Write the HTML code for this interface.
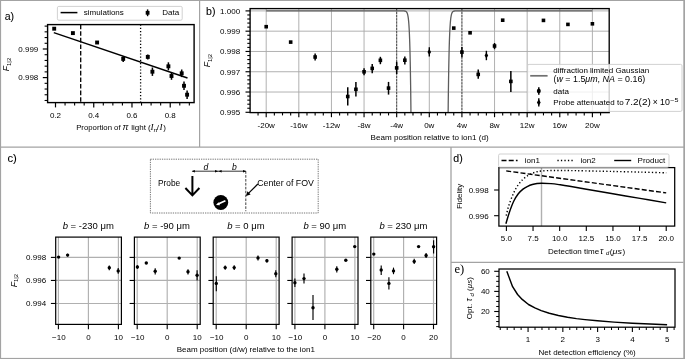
<!DOCTYPE html>
<html><head><meta charset="utf-8"><title>figure</title>
<style>
html,body{margin:0;padding:0;background:#fff;}
body{width:685px;height:359px;overflow:hidden;}
svg{display:block;font-family:"Liberation Sans",sans-serif;filter:grayscale(1);}
</style></head><body>
<svg width="685" height="359" viewBox="0 0 685 359">
<rect x="0" y="0" width="685" height="359" fill="#fff"/>
<line x1="0.5" y1="0" x2="0.5" y2="359" stroke="#a3a3a3" stroke-width="1.2" />
<line x1="0" y1="0.5" x2="685" y2="0.5" stroke="#a3a3a3" stroke-width="1.2" />
<rect x="683.3" y="0" width="1.7" height="359" fill="#a3a3a3"/>
<rect x="0" y="357.9" width="685" height="1.1" fill="#a3a3a3"/>
<line x1="0" y1="147.1" x2="685" y2="147.1" stroke="#a3a3a3" stroke-width="1.2" />
<line x1="199.6" y1="0" x2="199.6" y2="147.1" stroke="#a3a3a3" stroke-width="1.2" />
<line x1="451" y1="147.1" x2="451" y2="358" stroke="#a3a3a3" stroke-width="1.3" />
<line x1="451" y1="262.3" x2="683.5" y2="262.3" stroke="#a3a3a3" stroke-width="1.2" />
<text x="4.7" y="20.1" font-size="10.2" text-anchor="start" fill="#000" textLength="9.4" lengthAdjust="spacingAndGlyphs" stroke="#000" stroke-width="0.08">a)</text>
<text x="206" y="14.8" font-size="10.2" text-anchor="start" fill="#000" textLength="9.4" lengthAdjust="spacingAndGlyphs" stroke="#000" stroke-width="0.08">b)</text>
<text x="7.4" y="161.6" font-size="10.2" text-anchor="start" fill="#000" textLength="9.4" lengthAdjust="spacingAndGlyphs" stroke="#000" stroke-width="0.08">c)</text>
<text x="453.3" y="161.9" font-size="10.2" text-anchor="start" fill="#000" textLength="9.4" lengthAdjust="spacingAndGlyphs" stroke="#000" stroke-width="0.08">d)</text>
<text x="454.5" y="272.9" font-size="12.6" text-anchor="start" fill="#000" style="font-family:'Liberation Serif',serif">e)</text>
<line x1="80.7" y1="24.6" x2="80.7" y2="102.6" stroke="#000" stroke-width="1.3" stroke-dasharray="4.6 2"/>
<line x1="140.6" y1="24.6" x2="140.6" y2="102.6" stroke="#000" stroke-width="1.3" stroke-dasharray="1.2 2"/>
<line x1="53.8" y1="32.7" x2="187.5" y2="78" stroke="#000" stroke-width="1.4" />
<rect x="52.25" y="26.75" width="3.9" height="3.9" fill="#000"/>
<rect x="70.95" y="31.15" width="3.9" height="3.9" fill="#000"/>
<rect x="95.15" y="40.55" width="3.9" height="3.9" fill="#000"/>
<line x1="123.2" y1="55.9" x2="123.2" y2="61.9" stroke="#000" stroke-width="1.5" />
<rect x="121.25" y="56.95" width="3.9" height="3.9" fill="#000"/>
<line x1="147.8" y1="54.4" x2="147.8" y2="59.4" stroke="#000" stroke-width="1.5" />
<rect x="145.85" y="54.95" width="3.9" height="3.9" fill="#000"/>
<line x1="152.4" y1="67.5" x2="152.4" y2="75.9" stroke="#000" stroke-width="1.5" />
<rect x="150.45" y="69.75" width="3.9" height="3.9" fill="#000"/>
<line x1="168.4" y1="62.3" x2="168.4" y2="70.3" stroke="#000" stroke-width="1.5" />
<rect x="166.45" y="64.35" width="3.9" height="3.9" fill="#000"/>
<line x1="171.5" y1="72.2" x2="171.5" y2="79.8" stroke="#000" stroke-width="1.5" />
<rect x="169.55" y="74.05" width="3.9" height="3.9" fill="#000"/>
<line x1="181.7" y1="69.5" x2="181.7" y2="77.1" stroke="#000" stroke-width="1.5" />
<rect x="179.75" y="71.35" width="3.9" height="3.9" fill="#000"/>
<line x1="184" y1="81.6" x2="184" y2="90" stroke="#000" stroke-width="1.5" />
<rect x="182.05" y="83.85" width="3.9" height="3.9" fill="#000"/>
<line x1="187.1" y1="90.5" x2="187.1" y2="98.9" stroke="#000" stroke-width="1.5" />
<rect x="185.15" y="92.75" width="3.9" height="3.9" fill="#000"/>
<line x1="55.5" y1="102.6" x2="55.5" y2="107.4" stroke="#000" stroke-width="1.2" />
<text x="55.5" y="118.1" font-size="8.0" text-anchor="middle" fill="#000" >0.2</text>
<line x1="93.74" y1="102.6" x2="93.74" y2="107.4" stroke="#000" stroke-width="1.2" />
<text x="93.74" y="118.1" font-size="8.0" text-anchor="middle" fill="#000" >0.4</text>
<line x1="131.98" y1="102.6" x2="131.98" y2="107.4" stroke="#000" stroke-width="1.2" />
<text x="131.98" y="118.1" font-size="8.0" text-anchor="middle" fill="#000" >0.6</text>
<line x1="170.22" y1="102.6" x2="170.22" y2="107.4" stroke="#000" stroke-width="1.2" />
<text x="170.22" y="118.1" font-size="8.0" text-anchor="middle" fill="#000" >0.8</text>
<line x1="65.06" y1="102.6" x2="65.06" y2="105.6" stroke="#000" stroke-width="1.1" />
<line x1="74.62" y1="102.6" x2="74.62" y2="105.6" stroke="#000" stroke-width="1.1" />
<line x1="84.18" y1="102.6" x2="84.18" y2="105.6" stroke="#000" stroke-width="1.1" />
<line x1="103.3" y1="102.6" x2="103.3" y2="105.6" stroke="#000" stroke-width="1.1" />
<line x1="112.86" y1="102.6" x2="112.86" y2="105.6" stroke="#000" stroke-width="1.1" />
<line x1="122.42" y1="102.6" x2="122.42" y2="105.6" stroke="#000" stroke-width="1.1" />
<line x1="141.54" y1="102.6" x2="141.54" y2="105.6" stroke="#000" stroke-width="1.1" />
<line x1="151.1" y1="102.6" x2="151.1" y2="105.6" stroke="#000" stroke-width="1.1" />
<line x1="160.66" y1="102.6" x2="160.66" y2="105.6" stroke="#000" stroke-width="1.1" />
<line x1="179.78" y1="102.6" x2="179.78" y2="105.6" stroke="#000" stroke-width="1.1" />
<line x1="189.34" y1="102.6" x2="189.34" y2="105.6" stroke="#000" stroke-width="1.1" />
<line x1="42.8" y1="77.6" x2="47.6" y2="77.6" stroke="#000" stroke-width="1.2" />
<text x="38.3" y="80.45" font-size="8.0" text-anchor="end" fill="#000" >0.998</text>
<line x1="42.8" y1="49" x2="47.6" y2="49" stroke="#000" stroke-width="1.2" />
<text x="38.3" y="51.85" font-size="8.0" text-anchor="end" fill="#000" >0.999</text>
<line x1="44.6" y1="100.48" x2="47.6" y2="100.48" stroke="#000" stroke-width="1.1" />
<line x1="44.6" y1="94.76" x2="47.6" y2="94.76" stroke="#000" stroke-width="1.1" />
<line x1="44.6" y1="89.04" x2="47.6" y2="89.04" stroke="#000" stroke-width="1.1" />
<line x1="44.6" y1="83.32" x2="47.6" y2="83.32" stroke="#000" stroke-width="1.1" />
<line x1="44.6" y1="71.88" x2="47.6" y2="71.88" stroke="#000" stroke-width="1.1" />
<line x1="44.6" y1="66.16" x2="47.6" y2="66.16" stroke="#000" stroke-width="1.1" />
<line x1="44.6" y1="60.44" x2="47.6" y2="60.44" stroke="#000" stroke-width="1.1" />
<line x1="44.6" y1="54.72" x2="47.6" y2="54.72" stroke="#000" stroke-width="1.1" />
<line x1="44.6" y1="43.28" x2="47.6" y2="43.28" stroke="#000" stroke-width="1.1" />
<line x1="44.6" y1="37.56" x2="47.6" y2="37.56" stroke="#000" stroke-width="1.1" />
<line x1="44.6" y1="31.84" x2="47.6" y2="31.84" stroke="#000" stroke-width="1.1" />
<line x1="44.6" y1="26.12" x2="47.6" y2="26.12" stroke="#000" stroke-width="1.1" />
<rect x="47.6" y="24.6" width="146.5" height="78" fill="none" stroke="#000" stroke-width="1.4" />
<text x="76.2" y="130.3" font-size="8.0" text-anchor="start" fill="#000" textLength="44.4" lengthAdjust="spacingAndGlyphs">Proportion of</text>
<text x="122.4" y="130.3" font-size="9.2" text-anchor="start" fill="#000" font-style="italic" textLength="6.0" lengthAdjust="spacingAndGlyphs">π</text>
<text x="131.2" y="130.3" font-size="8.0" text-anchor="start" fill="#000" >light (</text>
<text x="150.4" y="130.3" font-size="9.2" text-anchor="start" fill="#000" style="font-family:'Liberation Serif',serif;font-style:italic">I</text>
<text x="153.4" y="132" font-size="6.0" text-anchor="start" fill="#000" font-style="italic">π</text>
<text x="156.8" y="130.3" font-size="8.0" text-anchor="start" fill="#000" >/</text>
<text x="159.4" y="130.3" font-size="9.2" text-anchor="start" fill="#000" style="font-family:'Liberation Serif',serif;font-style:italic">I</text>
<text x="163.2" y="130.3" font-size="8.0" text-anchor="start" fill="#000" >)</text>
<text transform="translate(8.9,64.5) rotate(-90)" font-size="8.0" text-anchor="middle" ><tspan font-style="italic" font-size="8.6">F</tspan><tspan font-size="6" dy="1.8">1|2</tspan></text>
<rect x="57.4" y="6.4" width="124.8" height="13.8" fill="#fff" stroke="#cccccc" stroke-width="0.9" rx="1.4"/>
<line x1="60.6" y1="12.6" x2="77.4" y2="12.6" stroke="#000" stroke-width="1.5" />
<text x="83.8" y="15.4" font-size="8.0" text-anchor="start" fill="#000" >simulations</text>
<line x1="147.6" y1="9.4" x2="147.6" y2="16.2" stroke="#000" stroke-width="1.4" />
<rect x="145.7" y="10.9" width="3.8" height="3.8" fill="#000"/>
<text x="162.2" y="15.4" font-size="8.0" text-anchor="start" fill="#000" >Data</text>
<line x1="266.2" y1="8.6" x2="266.2" y2="112.6" stroke="#a8a8a8" stroke-width="0.9" />
<line x1="298.82" y1="8.6" x2="298.82" y2="112.6" stroke="#a8a8a8" stroke-width="0.9" />
<line x1="331.44" y1="8.6" x2="331.44" y2="112.6" stroke="#a8a8a8" stroke-width="0.9" />
<line x1="364.06" y1="8.6" x2="364.06" y2="112.6" stroke="#a8a8a8" stroke-width="0.9" />
<line x1="396.68" y1="8.6" x2="396.68" y2="112.6" stroke="#a8a8a8" stroke-width="0.9" />
<line x1="429.3" y1="8.6" x2="429.3" y2="112.6" stroke="#a8a8a8" stroke-width="0.9" />
<line x1="461.92" y1="8.6" x2="461.92" y2="112.6" stroke="#a8a8a8" stroke-width="0.9" />
<line x1="494.54" y1="8.6" x2="494.54" y2="112.6" stroke="#a8a8a8" stroke-width="0.9" />
<line x1="527.16" y1="8.6" x2="527.16" y2="112.6" stroke="#a8a8a8" stroke-width="0.9" />
<line x1="559.78" y1="8.6" x2="559.78" y2="112.6" stroke="#a8a8a8" stroke-width="0.9" />
<line x1="592.4" y1="8.6" x2="592.4" y2="112.6" stroke="#a8a8a8" stroke-width="0.9" />
<line x1="250.1" y1="10.9" x2="609.2" y2="10.9" stroke="#a8a8a8" stroke-width="0.9" />
<line x1="250.1" y1="31.18" x2="609.2" y2="31.18" stroke="#a8a8a8" stroke-width="0.9" />
<line x1="250.1" y1="51.46" x2="609.2" y2="51.46" stroke="#a8a8a8" stroke-width="0.9" />
<line x1="250.1" y1="71.74" x2="609.2" y2="71.74" stroke="#a8a8a8" stroke-width="0.9" />
<line x1="250.1" y1="92.02" x2="609.2" y2="92.02" stroke="#a8a8a8" stroke-width="0.9" />
<line x1="396.68" y1="8.6" x2="396.68" y2="112.6" stroke="#000" stroke-width="0.62" stroke-dasharray="2.2 1.0"/>
<line x1="461.92" y1="8.6" x2="461.92" y2="112.6" stroke="#000" stroke-width="0.62" stroke-dasharray="2.2 1.0"/>
<clipPath id="clipb"><rect x="250.1" y="8.6" width="359.1" height="104"/></clipPath>
<path d="M266.2 10.9 L266.36 10.9 L266.53 10.9 L266.69 10.9 L266.85 10.9 L267.02 10.9 L267.18 10.9 L267.34 10.9 L267.5 10.9 L267.67 10.9 L267.83 10.9 L267.99 10.9 L268.16 10.9 L268.32 10.9 L268.48 10.9 L268.65 10.9 L268.81 10.9 L268.97 10.9 L269.14 10.9 L269.3 10.9 L269.46 10.9 L269.63 10.9 L269.79 10.9 L269.95 10.9 L270.11 10.9 L270.28 10.9 L270.44 10.9 L270.6 10.9 L270.77 10.9 L270.93 10.9 L271.09 10.9 L271.26 10.9 L271.42 10.9 L271.58 10.9 L271.75 10.9 L271.91 10.9 L272.07 10.9 L272.23 10.9 L272.4 10.9 L272.56 10.9 L272.72 10.9 L272.89 10.9 L273.05 10.9 L273.21 10.9 L273.38 10.9 L273.54 10.9 L273.7 10.9 L273.87 10.9 L274.03 10.9 L274.19 10.9 L274.35 10.9 L274.52 10.9 L274.68 10.9 L274.84 10.9 L275.01 10.9 L275.17 10.9 L275.33 10.9 L275.5 10.9 L275.66 10.9 L275.82 10.9 L275.99 10.9 L276.15 10.9 L276.31 10.9 L276.48 10.9 L276.64 10.9 L276.8 10.9 L276.96 10.9 L277.13 10.9 L277.29 10.9 L277.45 10.9 L277.62 10.9 L277.78 10.9 L277.94 10.9 L278.11 10.9 L278.27 10.9 L278.43 10.9 L278.6 10.9 L278.76 10.9 L278.92 10.9 L279.08 10.9 L279.25 10.9 L279.41 10.9 L279.57 10.9 L279.74 10.9 L279.9 10.9 L280.06 10.9 L280.23 10.9 L280.39 10.9 L280.55 10.9 L280.72 10.9 L280.88 10.9 L281.04 10.9 L281.21 10.9 L281.37 10.9 L281.53 10.9 L281.69 10.9 L281.86 10.9 L282.02 10.9 L282.18 10.9 L282.35 10.9 L282.51 10.9 L282.67 10.9 L282.84 10.9 L283 10.9 L283.16 10.9 L283.33 10.9 L283.49 10.9 L283.65 10.9 L283.81 10.9 L283.98 10.9 L284.14 10.9 L284.3 10.9 L284.47 10.9 L284.63 10.9 L284.79 10.9 L284.96 10.9 L285.12 10.9 L285.28 10.9 L285.45 10.9 L285.61 10.9 L285.77 10.9 L285.94 10.9 L286.1 10.9 L286.26 10.9 L286.42 10.9 L286.59 10.9 L286.75 10.9 L286.91 10.9 L287.08 10.9 L287.24 10.9 L287.4 10.9 L287.57 10.9 L287.73 10.9 L287.89 10.9 L288.06 10.9 L288.22 10.9 L288.38 10.9 L288.54 10.9 L288.71 10.9 L288.87 10.9 L289.03 10.9 L289.2 10.9 L289.36 10.9 L289.52 10.9 L289.69 10.9 L289.85 10.9 L290.01 10.9 L290.18 10.9 L290.34 10.9 L290.5 10.9 L290.66 10.9 L290.83 10.9 L290.99 10.9 L291.15 10.9 L291.32 10.9 L291.48 10.9 L291.64 10.9 L291.81 10.9 L291.97 10.9 L292.13 10.9 L292.3 10.9 L292.46 10.9 L292.62 10.9 L292.79 10.9 L292.95 10.9 L293.11 10.9 L293.27 10.9 L293.44 10.9 L293.6 10.9 L293.76 10.9 L293.93 10.9 L294.09 10.9 L294.25 10.9 L294.42 10.9 L294.58 10.9 L294.74 10.9 L294.91 10.9 L295.07 10.9 L295.23 10.9 L295.39 10.9 L295.56 10.9 L295.72 10.9 L295.88 10.9 L296.05 10.9 L296.21 10.9 L296.37 10.9 L296.54 10.9 L296.7 10.9 L296.86 10.9 L297.03 10.9 L297.19 10.9 L297.35 10.9 L297.52 10.9 L297.68 10.9 L297.84 10.9 L298 10.9 L298.17 10.9 L298.33 10.9 L298.49 10.9 L298.66 10.9 L298.82 10.9 L298.98 10.9 L299.15 10.9 L299.31 10.9 L299.47 10.9 L299.64 10.9 L299.8 10.9 L299.96 10.9 L300.12 10.9 L300.29 10.9 L300.45 10.9 L300.61 10.9 L300.78 10.9 L300.94 10.9 L301.1 10.9 L301.27 10.9 L301.43 10.9 L301.59 10.9 L301.76 10.9 L301.92 10.9 L302.08 10.9 L302.25 10.9 L302.41 10.9 L302.57 10.9 L302.73 10.9 L302.9 10.9 L303.06 10.9 L303.22 10.9 L303.39 10.9 L303.55 10.9 L303.71 10.9 L303.88 10.9 L304.04 10.9 L304.2 10.9 L304.37 10.9 L304.53 10.9 L304.69 10.9 L304.85 10.9 L305.02 10.9 L305.18 10.9 L305.34 10.9 L305.51 10.9 L305.67 10.9 L305.83 10.9 L306 10.9 L306.16 10.9 L306.32 10.9 L306.49 10.9 L306.65 10.9 L306.81 10.9 L306.97 10.9 L307.14 10.9 L307.3 10.9 L307.46 10.9 L307.63 10.9 L307.79 10.9 L307.95 10.9 L308.12 10.9 L308.28 10.9 L308.44 10.9 L308.61 10.9 L308.77 10.9 L308.93 10.9 L309.1 10.9 L309.26 10.9 L309.42 10.9 L309.58 10.9 L309.75 10.9 L309.91 10.9 L310.07 10.9 L310.24 10.9 L310.4 10.9 L310.56 10.9 L310.73 10.9 L310.89 10.9 L311.05 10.9 L311.22 10.9 L311.38 10.9 L311.54 10.9 L311.7 10.9 L311.87 10.9 L312.03 10.9 L312.19 10.9 L312.36 10.9 L312.52 10.9 L312.68 10.9 L312.85 10.9 L313.01 10.9 L313.17 10.9 L313.34 10.9 L313.5 10.9 L313.66 10.9 L313.83 10.9 L313.99 10.9 L314.15 10.9 L314.31 10.9 L314.48 10.9 L314.64 10.9 L314.8 10.9 L314.97 10.9 L315.13 10.9 L315.29 10.9 L315.46 10.9 L315.62 10.9 L315.78 10.9 L315.95 10.9 L316.11 10.9 L316.27 10.9 L316.43 10.9 L316.6 10.9 L316.76 10.9 L316.92 10.9 L317.09 10.9 L317.25 10.9 L317.41 10.9 L317.58 10.9 L317.74 10.9 L317.9 10.9 L318.07 10.9 L318.23 10.9 L318.39 10.9 L318.56 10.9 L318.72 10.9 L318.88 10.9 L319.04 10.9 L319.21 10.9 L319.37 10.9 L319.53 10.9 L319.7 10.9 L319.86 10.9 L320.02 10.9 L320.19 10.9 L320.35 10.9 L320.51 10.9 L320.68 10.9 L320.84 10.9 L321 10.9 L321.16 10.9 L321.33 10.9 L321.49 10.9 L321.65 10.9 L321.82 10.9 L321.98 10.9 L322.14 10.9 L322.31 10.9 L322.47 10.9 L322.63 10.9 L322.8 10.9 L322.96 10.9 L323.12 10.9 L323.28 10.9 L323.45 10.9 L323.61 10.9 L323.77 10.9 L323.94 10.9 L324.1 10.9 L324.26 10.9 L324.43 10.9 L324.59 10.9 L324.75 10.9 L324.92 10.9 L325.08 10.9 L325.24 10.9 L325.41 10.9 L325.57 10.9 L325.73 10.9 L325.89 10.9 L326.06 10.9 L326.22 10.9 L326.38 10.9 L326.55 10.9 L326.71 10.9 L326.87 10.9 L327.04 10.9 L327.2 10.9 L327.36 10.9 L327.53 10.9 L327.69 10.9 L327.85 10.9 L328.01 10.9 L328.18 10.9 L328.34 10.9 L328.5 10.9 L328.67 10.9 L328.83 10.9 L328.99 10.9 L329.16 10.9 L329.32 10.9 L329.48 10.9 L329.65 10.9 L329.81 10.9 L329.97 10.9 L330.14 10.9 L330.3 10.9 L330.46 10.9 L330.62 10.9 L330.79 10.9 L330.95 10.9 L331.11 10.9 L331.28 10.9 L331.44 10.9 L331.6 10.9 L331.77 10.9 L331.93 10.9 L332.09 10.9 L332.26 10.9 L332.42 10.9 L332.58 10.9 L332.74 10.9 L332.91 10.9 L333.07 10.9 L333.23 10.9 L333.4 10.9 L333.56 10.9 L333.72 10.9 L333.89 10.9 L334.05 10.9 L334.21 10.9 L334.38 10.9 L334.54 10.9 L334.7 10.9 L334.87 10.9 L335.03 10.9 L335.19 10.9 L335.35 10.9 L335.52 10.9 L335.68 10.9 L335.84 10.9 L336.01 10.9 L336.17 10.9 L336.33 10.9 L336.5 10.9 L336.66 10.9 L336.82 10.9 L336.99 10.9 L337.15 10.9 L337.31 10.9 L337.47 10.9 L337.64 10.9 L337.8 10.9 L337.96 10.9 L338.13 10.9 L338.29 10.9 L338.45 10.9 L338.62 10.9 L338.78 10.9 L338.94 10.9 L339.11 10.9 L339.27 10.9 L339.43 10.9 L339.59 10.9 L339.76 10.9 L339.92 10.9 L340.08 10.9 L340.25 10.9 L340.41 10.9 L340.57 10.9 L340.74 10.9 L340.9 10.9 L341.06 10.9 L341.23 10.9 L341.39 10.9 L341.55 10.9 L341.72 10.9 L341.88 10.9 L342.04 10.9 L342.2 10.9 L342.37 10.9 L342.53 10.9 L342.69 10.9 L342.86 10.9 L343.02 10.9 L343.18 10.9 L343.35 10.9 L343.51 10.9 L343.67 10.9 L343.84 10.9 L344 10.9 L344.16 10.9 L344.32 10.9 L344.49 10.9 L344.65 10.9 L344.81 10.9 L344.98 10.9 L345.14 10.9 L345.3 10.9 L345.47 10.9 L345.63 10.9 L345.79 10.9 L345.96 10.9 L346.12 10.9 L346.28 10.9 L346.45 10.9 L346.61 10.9 L346.77 10.9 L346.93 10.9 L347.1 10.9 L347.26 10.9 L347.42 10.9 L347.59 10.9 L347.75 10.9 L347.91 10.9 L348.08 10.9 L348.24 10.9 L348.4 10.9 L348.57 10.9 L348.73 10.9 L348.89 10.9 L349.05 10.9 L349.22 10.9 L349.38 10.9 L349.54 10.9 L349.71 10.9 L349.87 10.9 L350.03 10.9 L350.2 10.9 L350.36 10.9 L350.52 10.9 L350.69 10.9 L350.85 10.9 L351.01 10.9 L351.18 10.9 L351.34 10.9 L351.5 10.9 L351.66 10.9 L351.83 10.9 L351.99 10.9 L352.15 10.9 L352.32 10.9 L352.48 10.9 L352.64 10.9 L352.81 10.9 L352.97 10.9 L353.13 10.9 L353.3 10.9 L353.46 10.9 L353.62 10.9 L353.78 10.9 L353.95 10.9 L354.11 10.9 L354.27 10.9 L354.44 10.9 L354.6 10.9 L354.76 10.9 L354.93 10.9 L355.09 10.9 L355.25 10.9 L355.42 10.9 L355.58 10.9 L355.74 10.9 L355.9 10.9 L356.07 10.9 L356.23 10.9 L356.39 10.9 L356.56 10.9 L356.72 10.9 L356.88 10.9 L357.05 10.9 L357.21 10.9 L357.37 10.9 L357.54 10.9 L357.7 10.9 L357.86 10.9 L358.03 10.9 L358.19 10.9 L358.35 10.9 L358.51 10.9 L358.68 10.9 L358.84 10.9 L359 10.9 L359.17 10.9 L359.33 10.9 L359.49 10.9 L359.66 10.9 L359.82 10.9 L359.98 10.9 L360.15 10.9 L360.31 10.9 L360.47 10.9 L360.63 10.9 L360.8 10.9 L360.96 10.9 L361.12 10.9 L361.29 10.9 L361.45 10.9 L361.61 10.9 L361.78 10.9 L361.94 10.9 L362.1 10.9 L362.27 10.9 L362.43 10.9 L362.59 10.9 L362.76 10.9 L362.92 10.9 L363.08 10.9 L363.24 10.9 L363.41 10.9 L363.57 10.9 L363.73 10.9 L363.9 10.9 L364.06 10.9 L364.22 10.9 L364.39 10.9 L364.55 10.9 L364.71 10.9 L364.88 10.9 L365.04 10.9 L365.2 10.9 L365.36 10.9 L365.53 10.9 L365.69 10.9 L365.85 10.9 L366.02 10.9 L366.18 10.9 L366.34 10.9 L366.51 10.9 L366.67 10.9 L366.83 10.9 L367 10.9 L367.16 10.9 L367.32 10.9 L367.49 10.9 L367.65 10.9 L367.81 10.9 L367.97 10.9 L368.14 10.9 L368.3 10.9 L368.46 10.9 L368.63 10.9 L368.79 10.9 L368.95 10.9 L369.12 10.9 L369.28 10.9 L369.44 10.9 L369.61 10.9 L369.77 10.9 L369.93 10.9 L370.09 10.9 L370.26 10.9 L370.42 10.9 L370.58 10.9 L370.75 10.9 L370.91 10.9 L371.07 10.9 L371.24 10.9 L371.4 10.9 L371.56 10.9 L371.73 10.9 L371.89 10.9 L372.05 10.9 L372.21 10.9 L372.38 10.9 L372.54 10.9 L372.7 10.9 L372.87 10.9 L373.03 10.9 L373.19 10.9 L373.36 10.9 L373.52 10.9 L373.68 10.9 L373.85 10.9 L374.01 10.9 L374.17 10.9 L374.34 10.9 L374.5 10.9 L374.66 10.9 L374.82 10.9 L374.99 10.9 L375.15 10.9 L375.31 10.9 L375.48 10.9 L375.64 10.9 L375.8 10.9 L375.97 10.9 L376.13 10.9 L376.29 10.9 L376.46 10.9 L376.62 10.9 L376.78 10.9 L376.94 10.9 L377.11 10.9 L377.27 10.9 L377.43 10.9 L377.6 10.9 L377.76 10.9 L377.92 10.9 L378.09 10.9 L378.25 10.9 L378.41 10.9 L378.58 10.9 L378.74 10.9 L378.9 10.9 L379.07 10.9 L379.23 10.9 L379.39 10.9 L379.55 10.9 L379.72 10.9 L379.88 10.9 L380.04 10.9 L380.21 10.9 L380.37 10.9 L380.53 10.9 L380.7 10.9 L380.86 10.9 L381.02 10.9 L381.19 10.9 L381.35 10.9 L381.51 10.9 L381.67 10.9 L381.84 10.9 L382 10.9 L382.16 10.9 L382.33 10.9 L382.49 10.9 L382.65 10.9 L382.82 10.9 L382.98 10.9 L383.14 10.9 L383.31 10.9 L383.47 10.9 L383.63 10.9 L383.8 10.9 L383.96 10.9 L384.12 10.9 L384.28 10.9 L384.45 10.9 L384.61 10.9 L384.77 10.9 L384.94 10.9 L385.1 10.9 L385.26 10.9 L385.43 10.9 L385.59 10.9 L385.75 10.9 L385.92 10.9 L386.08 10.9 L386.24 10.9 L386.4 10.9 L386.57 10.9 L386.73 10.9 L386.89 10.9 L387.06 10.9 L387.22 10.9 L387.38 10.9 L387.55 10.9 L387.71 10.9 L387.87 10.9 L388.04 10.9 L388.2 10.9 L388.36 10.9 L388.52 10.9 L388.69 10.9 L388.85 10.9 L389.01 10.9 L389.18 10.9 L389.34 10.9 L389.5 10.9 L389.67 10.9 L389.83 10.9 L389.99 10.9 L390.16 10.9 L390.32 10.9 L390.48 10.9 L390.65 10.9 L390.81 10.9 L390.97 10.9 L391.13 10.9 L391.3 10.9 L391.46 10.9 L391.62 10.9 L391.79 10.9 L391.95 10.9 L392.11 10.9 L392.28 10.9 L392.44 10.9 L392.6 10.9 L392.77 10.9 L392.93 10.9 L393.09 10.9 L393.25 10.9 L393.42 10.9 L393.58 10.9 L393.74 10.9 L393.91 10.9 L394.07 10.9 L394.23 10.9 L394.4 10.9 L394.56 10.9 L394.72 10.9 L394.89 10.9 L395.05 10.9 L395.21 10.9 L395.38 10.9 L395.54 10.9 L395.7 10.9 L395.86 10.9 L396.03 10.9 L396.19 10.9 L396.35 10.9 L396.52 10.9 L396.68 10.9 L396.84 10.9 L397.01 10.9 L397.17 10.9 L397.33 10.9 L397.5 10.9 L397.66 10.9 L397.82 10.9 L397.98 10.9 L398.15 10.9 L398.31 10.9 L398.47 10.9 L398.64 10.9 L398.8 10.9 L398.96 10.9 L399.13 10.9 L399.29 10.9 L399.45 10.9 L399.62 10.9 L399.78 10.9 L399.94 10.9 L400.11 10.9 L400.27 10.9 L400.43 10.9 L400.59 10.9 L400.76 10.9 L400.92 10.9 L401.08 10.9 L401.25 10.9 L401.41 10.9 L401.57 10.9 L401.74 10.9 L401.9 10.9 L402.06 10.9 L402.23 10.9 L402.39 10.91 L402.55 10.91 L402.71 10.91 L402.88 10.91 L403.04 10.91 L403.2 10.92 L403.37 10.92 L403.53 10.93 L403.69 10.93 L403.86 10.94 L404.02 10.95 L404.18 10.96 L404.35 10.98 L404.51 10.99 L404.67 11.02 L404.83 11.04 L405 11.07 L405.16 11.11 L405.32 11.15 L405.49 11.21 L405.65 11.28 L405.81 11.36 L405.98 11.45 L406.14 11.57 L406.3 11.71 L406.47 11.88 L406.63 12.08 L406.79 12.31 L406.96 12.6 L407.12 12.94 L407.28 13.35 L407.44 13.83 L407.61 14.4 L407.77 15.08 L407.93 15.88 L408.1 16.83 L408.26 17.95 L408.42 19.28 L408.59 20.83 L408.75 22.67 L408.91 24.82 L409.08 27.34 L409.24 30.3 L409.4 33.75 L409.56 37.79 L409.73 42.5 L409.89 47.98 L410.05 54.36 L410.22 61.76 L410.38 70.35 L410.54 80.3 L410.71 91.8 L410.87 105.09 L411.03 120.41 L411.2 138.06 L411.36 142.6 L411.52 142.6 L411.69 142.6 L411.85 142.6 L412.01 142.6 L412.17 142.6 L412.34 142.6 L412.5 142.6 L412.66 142.6 L412.83 142.6 L412.99 142.6 L413.15 142.6 L413.32 142.6 L413.48 142.6 L413.64 142.6 L413.81 142.6 L413.97 142.6 L414.13 142.6 L414.29 142.6 L414.46 142.6 L414.62 142.6 L414.78 142.6 L414.95 142.6 L415.11 142.6 L415.27 142.6 L415.44 142.6 L415.6 142.6 L415.76 142.6 L415.93 142.6 L416.09 142.6 L416.25 142.6 L416.42 142.6 L416.58 142.6 L416.74 142.6 L416.9 142.6 L417.07 142.6 L417.23 142.6 L417.39 142.6 L417.56 142.6 L417.72 142.6 L417.88 142.6 L418.05 142.6 L418.21 142.6 L418.37 142.6 L418.54 142.6 L418.7 142.6 L418.86 142.6 L419.02 142.6 L419.19 142.6 L419.35 142.6 L419.51 142.6 L419.68 142.6 L419.84 142.6 L420 142.6 L420.17 142.6 L420.33 142.6 L420.49 142.6 L420.66 142.6 L420.82 142.6 L420.98 142.6 L421.14 142.6 L421.31 142.6 L421.47 142.6 L421.63 142.6 L421.8 142.6 L421.96 142.6 L422.12 142.6 L422.29 142.6 L422.45 142.6 L422.61 142.6 L422.78 142.6 L422.94 142.6 L423.1 142.6 L423.27 142.6 L423.43 142.6 L423.59 142.6 L423.75 142.6 L423.92 142.6 L424.08 142.6 L424.24 142.6 L424.41 142.6 L424.57 142.6 L424.73 142.6 L424.9 142.6 L425.06 142.6 L425.22 142.6 L425.39 142.6 L425.55 142.6 L425.71 142.6 L425.87 142.6 L426.04 142.6 L426.2 142.6 L426.36 142.6 L426.53 142.6 L426.69 142.6 L426.85 142.6 L427.02 142.6 L427.18 142.6 L427.34 142.6 L427.51 142.6 L427.67 142.6 L427.83 142.6 L428 142.6 L428.16 142.6 L428.32 142.6 L428.48 142.6 L428.65 142.6 L428.81 142.6 L428.97 142.6 L429.14 142.6 L429.3 142.6 L429.46 142.6 L429.63 142.6 L429.79 142.6 L429.95 142.6 L430.12 142.6 L430.28 142.6 L430.44 142.6 L430.6 142.6 L430.77 142.6 L430.93 142.6 L431.09 142.6 L431.26 142.6 L431.42 142.6 L431.58 142.6 L431.75 142.6 L431.91 142.6 L432.07 142.6 L432.24 142.6 L432.4 142.6 L432.56 142.6 L432.73 142.6 L432.89 142.6 L433.05 142.6 L433.21 142.6 L433.38 142.6 L433.54 142.6 L433.7 142.6 L433.87 142.6 L434.03 142.6 L434.19 142.6 L434.36 142.6 L434.52 142.6 L434.68 142.6 L434.85 142.6 L435.01 142.6 L435.17 142.6 L435.33 142.6 L435.5 142.6 L435.66 142.6 L435.82 142.6 L435.99 142.6 L436.15 142.6 L436.31 142.6 L436.48 142.6 L436.64 142.6 L436.8 142.6 L436.97 142.6 L437.13 142.6 L437.29 142.6 L437.45 142.6 L437.62 142.6 L437.78 142.6 L437.94 142.6 L438.11 142.6 L438.27 142.6 L438.43 142.6 L438.6 142.6 L438.76 142.6 L438.92 142.6 L439.09 142.6 L439.25 142.6 L439.41 142.6 L439.58 142.6 L439.74 142.6 L439.9 142.6 L440.06 142.6 L440.23 142.6 L440.39 142.6 L440.55 142.6 L440.72 142.6 L440.88 142.6 L441.04 142.6 L441.21 142.6 L441.37 142.6 L441.53 142.6 L441.7 142.6 L441.86 142.6 L442.02 142.6 L442.18 142.6 L442.35 142.6 L442.51 142.6 L442.67 142.6 L442.84 142.6 L443 142.6 L443.16 142.6 L443.33 142.6 L443.49 142.6 L443.65 142.6 L443.82 142.6 L443.98 142.6 L444.14 142.6 L444.31 142.6 L444.47 142.6 L444.63 142.6 L444.79 142.6 L444.96 142.6 L445.12 142.6 L445.28 142.6 L445.45 142.6 L445.61 142.6 L445.77 142.6 L445.94 142.6 L446.1 142.6 L446.26 142.6 L446.43 142.6 L446.59 142.6 L446.75 142.6 L446.91 142.6 L447.08 142.6 L447.24 142.6 L447.4 142.6 L447.57 142.6 L447.73 142.6 L447.89 138.06 L448.06 120.41 L448.22 105.09 L448.38 91.8 L448.55 80.3 L448.71 70.35 L448.87 61.76 L449.04 54.36 L449.2 47.98 L449.36 42.5 L449.52 37.79 L449.69 33.75 L449.85 30.3 L450.01 27.34 L450.18 24.82 L450.34 22.67 L450.5 20.83 L450.67 19.28 L450.83 17.95 L450.99 16.83 L451.16 15.88 L451.32 15.08 L451.48 14.4 L451.64 13.83 L451.81 13.35 L451.97 12.94 L452.13 12.6 L452.3 12.31 L452.46 12.08 L452.62 11.88 L452.79 11.71 L452.95 11.57 L453.11 11.45 L453.28 11.36 L453.44 11.28 L453.6 11.21 L453.76 11.15 L453.93 11.11 L454.09 11.07 L454.25 11.04 L454.42 11.02 L454.58 10.99 L454.74 10.98 L454.91 10.96 L455.07 10.95 L455.23 10.94 L455.4 10.93 L455.56 10.93 L455.72 10.92 L455.89 10.92 L456.05 10.91 L456.21 10.91 L456.37 10.91 L456.54 10.91 L456.7 10.91 L456.86 10.9 L457.03 10.9 L457.19 10.9 L457.35 10.9 L457.52 10.9 L457.68 10.9 L457.84 10.9 L458.01 10.9 L458.17 10.9 L458.33 10.9 L458.49 10.9 L458.66 10.9 L458.82 10.9 L458.98 10.9 L459.15 10.9 L459.31 10.9 L459.47 10.9 L459.64 10.9 L459.8 10.9 L459.96 10.9 L460.13 10.9 L460.29 10.9 L460.45 10.9 L460.62 10.9 L460.78 10.9 L460.94 10.9 L461.1 10.9 L461.27 10.9 L461.43 10.9 L461.59 10.9 L461.76 10.9 L461.92 10.9 L462.08 10.9 L462.25 10.9 L462.41 10.9 L462.57 10.9 L462.74 10.9 L462.9 10.9 L463.06 10.9 L463.22 10.9 L463.39 10.9 L463.55 10.9 L463.71 10.9 L463.88 10.9 L464.04 10.9 L464.2 10.9 L464.37 10.9 L464.53 10.9 L464.69 10.9 L464.86 10.9 L465.02 10.9 L465.18 10.9 L465.35 10.9 L465.51 10.9 L465.67 10.9 L465.83 10.9 L466 10.9 L466.16 10.9 L466.32 10.9 L466.49 10.9 L466.65 10.9 L466.81 10.9 L466.98 10.9 L467.14 10.9 L467.3 10.9 L467.47 10.9 L467.63 10.9 L467.79 10.9 L467.95 10.9 L468.12 10.9 L468.28 10.9 L468.44 10.9 L468.61 10.9 L468.77 10.9 L468.93 10.9 L469.1 10.9 L469.26 10.9 L469.42 10.9 L469.59 10.9 L469.75 10.9 L469.91 10.9 L470.07 10.9 L470.24 10.9 L470.4 10.9 L470.56 10.9 L470.73 10.9 L470.89 10.9 L471.05 10.9 L471.22 10.9 L471.38 10.9 L471.54 10.9 L471.71 10.9 L471.87 10.9 L472.03 10.9 L472.2 10.9 L472.36 10.9 L472.52 10.9 L472.68 10.9 L472.85 10.9 L473.01 10.9 L473.17 10.9 L473.34 10.9 L473.5 10.9 L473.66 10.9 L473.83 10.9 L473.99 10.9 L474.15 10.9 L474.32 10.9 L474.48 10.9 L474.64 10.9 L474.8 10.9 L474.97 10.9 L475.13 10.9 L475.29 10.9 L475.46 10.9 L475.62 10.9 L475.78 10.9 L475.95 10.9 L476.11 10.9 L476.27 10.9 L476.44 10.9 L476.6 10.9 L476.76 10.9 L476.93 10.9 L477.09 10.9 L477.25 10.9 L477.41 10.9 L477.58 10.9 L477.74 10.9 L477.9 10.9 L478.07 10.9 L478.23 10.9 L478.39 10.9 L478.56 10.9 L478.72 10.9 L478.88 10.9 L479.05 10.9 L479.21 10.9 L479.37 10.9 L479.53 10.9 L479.7 10.9 L479.86 10.9 L480.02 10.9 L480.19 10.9 L480.35 10.9 L480.51 10.9 L480.68 10.9 L480.84 10.9 L481 10.9 L481.17 10.9 L481.33 10.9 L481.49 10.9 L481.66 10.9 L481.82 10.9 L481.98 10.9 L482.14 10.9 L482.31 10.9 L482.47 10.9 L482.63 10.9 L482.8 10.9 L482.96 10.9 L483.12 10.9 L483.29 10.9 L483.45 10.9 L483.61 10.9 L483.78 10.9 L483.94 10.9 L484.1 10.9 L484.26 10.9 L484.43 10.9 L484.59 10.9 L484.75 10.9 L484.92 10.9 L485.08 10.9 L485.24 10.9 L485.41 10.9 L485.57 10.9 L485.73 10.9 L485.9 10.9 L486.06 10.9 L486.22 10.9 L486.38 10.9 L486.55 10.9 L486.71 10.9 L486.87 10.9 L487.04 10.9 L487.2 10.9 L487.36 10.9 L487.53 10.9 L487.69 10.9 L487.85 10.9 L488.02 10.9 L488.18 10.9 L488.34 10.9 L488.51 10.9 L488.67 10.9 L488.83 10.9 L488.99 10.9 L489.16 10.9 L489.32 10.9 L489.48 10.9 L489.65 10.9 L489.81 10.9 L489.97 10.9 L490.14 10.9 L490.3 10.9 L490.46 10.9 L490.63 10.9 L490.79 10.9 L490.95 10.9 L491.11 10.9 L491.28 10.9 L491.44 10.9 L491.6 10.9 L491.77 10.9 L491.93 10.9 L492.09 10.9 L492.26 10.9 L492.42 10.9 L492.58 10.9 L492.75 10.9 L492.91 10.9 L493.07 10.9 L493.24 10.9 L493.4 10.9 L493.56 10.9 L493.72 10.9 L493.89 10.9 L494.05 10.9 L494.21 10.9 L494.38 10.9 L494.54 10.9 L494.7 10.9 L494.87 10.9 L495.03 10.9 L495.19 10.9 L495.36 10.9 L495.52 10.9 L495.68 10.9 L495.84 10.9 L496.01 10.9 L496.17 10.9 L496.33 10.9 L496.5 10.9 L496.66 10.9 L496.82 10.9 L496.99 10.9 L497.15 10.9 L497.31 10.9 L497.48 10.9 L497.64 10.9 L497.8 10.9 L497.97 10.9 L498.13 10.9 L498.29 10.9 L498.45 10.9 L498.62 10.9 L498.78 10.9 L498.94 10.9 L499.11 10.9 L499.27 10.9 L499.43 10.9 L499.6 10.9 L499.76 10.9 L499.92 10.9 L500.09 10.9 L500.25 10.9 L500.41 10.9 L500.57 10.9 L500.74 10.9 L500.9 10.9 L501.06 10.9 L501.23 10.9 L501.39 10.9 L501.55 10.9 L501.72 10.9 L501.88 10.9 L502.04 10.9 L502.21 10.9 L502.37 10.9 L502.53 10.9 L502.69 10.9 L502.86 10.9 L503.02 10.9 L503.18 10.9 L503.35 10.9 L503.51 10.9 L503.67 10.9 L503.84 10.9 L504 10.9 L504.16 10.9 L504.33 10.9 L504.49 10.9 L504.65 10.9 L504.82 10.9 L504.98 10.9 L505.14 10.9 L505.3 10.9 L505.47 10.9 L505.63 10.9 L505.79 10.9 L505.96 10.9 L506.12 10.9 L506.28 10.9 L506.45 10.9 L506.61 10.9 L506.77 10.9 L506.94 10.9 L507.1 10.9 L507.26 10.9 L507.42 10.9 L507.59 10.9 L507.75 10.9 L507.91 10.9 L508.08 10.9 L508.24 10.9 L508.4 10.9 L508.57 10.9 L508.73 10.9 L508.89 10.9 L509.06 10.9 L509.22 10.9 L509.38 10.9 L509.55 10.9 L509.71 10.9 L509.87 10.9 L510.03 10.9 L510.2 10.9 L510.36 10.9 L510.52 10.9 L510.69 10.9 L510.85 10.9 L511.01 10.9 L511.18 10.9 L511.34 10.9 L511.5 10.9 L511.67 10.9 L511.83 10.9 L511.99 10.9 L512.15 10.9 L512.32 10.9 L512.48 10.9 L512.64 10.9 L512.81 10.9 L512.97 10.9 L513.13 10.9 L513.3 10.9 L513.46 10.9 L513.62 10.9 L513.79 10.9 L513.95 10.9 L514.11 10.9 L514.28 10.9 L514.44 10.9 L514.6 10.9 L514.76 10.9 L514.93 10.9 L515.09 10.9 L515.25 10.9 L515.42 10.9 L515.58 10.9 L515.74 10.9 L515.91 10.9 L516.07 10.9 L516.23 10.9 L516.4 10.9 L516.56 10.9 L516.72 10.9 L516.88 10.9 L517.05 10.9 L517.21 10.9 L517.37 10.9 L517.54 10.9 L517.7 10.9 L517.86 10.9 L518.03 10.9 L518.19 10.9 L518.35 10.9 L518.52 10.9 L518.68 10.9 L518.84 10.9 L519 10.9 L519.17 10.9 L519.33 10.9 L519.49 10.9 L519.66 10.9 L519.82 10.9 L519.98 10.9 L520.15 10.9 L520.31 10.9 L520.47 10.9 L520.64 10.9 L520.8 10.9 L520.96 10.9 L521.13 10.9 L521.29 10.9 L521.45 10.9 L521.61 10.9 L521.78 10.9 L521.94 10.9 L522.1 10.9 L522.27 10.9 L522.43 10.9 L522.59 10.9 L522.76 10.9 L522.92 10.9 L523.08 10.9 L523.25 10.9 L523.41 10.9 L523.57 10.9 L523.73 10.9 L523.9 10.9 L524.06 10.9 L524.22 10.9 L524.39 10.9 L524.55 10.9 L524.71 10.9 L524.88 10.9 L525.04 10.9 L525.2 10.9 L525.37 10.9 L525.53 10.9 L525.69 10.9 L525.86 10.9 L526.02 10.9 L526.18 10.9 L526.34 10.9 L526.51 10.9 L526.67 10.9 L526.83 10.9 L527 10.9 L527.16 10.9 L527.32 10.9 L527.49 10.9 L527.65 10.9 L527.81 10.9 L527.98 10.9 L528.14 10.9 L528.3 10.9 L528.46 10.9 L528.63 10.9 L528.79 10.9 L528.95 10.9 L529.12 10.9 L529.28 10.9 L529.44 10.9 L529.61 10.9 L529.77 10.9 L529.93 10.9 L530.1 10.9 L530.26 10.9 L530.42 10.9 L530.59 10.9 L530.75 10.9 L530.91 10.9 L531.07 10.9 L531.24 10.9 L531.4 10.9 L531.56 10.9 L531.73 10.9 L531.89 10.9 L532.05 10.9 L532.22 10.9 L532.38 10.9 L532.54 10.9 L532.71 10.9 L532.87 10.9 L533.03 10.9 L533.19 10.9 L533.36 10.9 L533.52 10.9 L533.68 10.9 L533.85 10.9 L534.01 10.9 L534.17 10.9 L534.34 10.9 L534.5 10.9 L534.66 10.9 L534.83 10.9 L534.99 10.9 L535.15 10.9 L535.31 10.9 L535.48 10.9 L535.64 10.9 L535.8 10.9 L535.97 10.9 L536.13 10.9 L536.29 10.9 L536.46 10.9 L536.62 10.9 L536.78 10.9 L536.95 10.9 L537.11 10.9 L537.27 10.9 L537.44 10.9 L537.6 10.9 L537.76 10.9 L537.92 10.9 L538.09 10.9 L538.25 10.9 L538.41 10.9 L538.58 10.9 L538.74 10.9 L538.9 10.9 L539.07 10.9 L539.23 10.9 L539.39 10.9 L539.56 10.9 L539.72 10.9 L539.88 10.9 L540.04 10.9 L540.21 10.9 L540.37 10.9 L540.53 10.9 L540.7 10.9 L540.86 10.9 L541.02 10.9 L541.19 10.9 L541.35 10.9 L541.51 10.9 L541.68 10.9 L541.84 10.9 L542 10.9 L542.17 10.9 L542.33 10.9 L542.49 10.9 L542.65 10.9 L542.82 10.9 L542.98 10.9 L543.14 10.9 L543.31 10.9 L543.47 10.9 L543.63 10.9 L543.8 10.9 L543.96 10.9 L544.12 10.9 L544.29 10.9 L544.45 10.9 L544.61 10.9 L544.77 10.9 L544.94 10.9 L545.1 10.9 L545.26 10.9 L545.43 10.9 L545.59 10.9 L545.75 10.9 L545.92 10.9 L546.08 10.9 L546.24 10.9 L546.41 10.9 L546.57 10.9 L546.73 10.9 L546.9 10.9 L547.06 10.9 L547.22 10.9 L547.38 10.9 L547.55 10.9 L547.71 10.9 L547.87 10.9 L548.04 10.9 L548.2 10.9 L548.36 10.9 L548.53 10.9 L548.69 10.9 L548.85 10.9 L549.02 10.9 L549.18 10.9 L549.34 10.9 L549.5 10.9 L549.67 10.9 L549.83 10.9 L549.99 10.9 L550.16 10.9 L550.32 10.9 L550.48 10.9 L550.65 10.9 L550.81 10.9 L550.97 10.9 L551.14 10.9 L551.3 10.9 L551.46 10.9 L551.62 10.9 L551.79 10.9 L551.95 10.9 L552.11 10.9 L552.28 10.9 L552.44 10.9 L552.6 10.9 L552.77 10.9 L552.93 10.9 L553.09 10.9 L553.26 10.9 L553.42 10.9 L553.58 10.9 L553.75 10.9 L553.91 10.9 L554.07 10.9 L554.23 10.9 L554.4 10.9 L554.56 10.9 L554.72 10.9 L554.89 10.9 L555.05 10.9 L555.21 10.9 L555.38 10.9 L555.54 10.9 L555.7 10.9 L555.87 10.9 L556.03 10.9 L556.19 10.9 L556.35 10.9 L556.52 10.9 L556.68 10.9 L556.84 10.9 L557.01 10.9 L557.17 10.9 L557.33 10.9 L557.5 10.9 L557.66 10.9 L557.82 10.9 L557.99 10.9 L558.15 10.9 L558.31 10.9 L558.48 10.9 L558.64 10.9 L558.8 10.9 L558.96 10.9 L559.13 10.9 L559.29 10.9 L559.45 10.9 L559.62 10.9 L559.78 10.9 L559.94 10.9 L560.11 10.9 L560.27 10.9 L560.43 10.9 L560.6 10.9 L560.76 10.9 L560.92 10.9 L561.08 10.9 L561.25 10.9 L561.41 10.9 L561.57 10.9 L561.74 10.9 L561.9 10.9 L562.06 10.9 L562.23 10.9 L562.39 10.9 L562.55 10.9 L562.72 10.9 L562.88 10.9 L563.04 10.9 L563.21 10.9 L563.37 10.9 L563.53 10.9 L563.69 10.9 L563.86 10.9 L564.02 10.9 L564.18 10.9 L564.35 10.9 L564.51 10.9 L564.67 10.9 L564.84 10.9 L565 10.9 L565.16 10.9 L565.33 10.9 L565.49 10.9 L565.65 10.9 L565.81 10.9 L565.98 10.9 L566.14 10.9 L566.3 10.9 L566.47 10.9 L566.63 10.9 L566.79 10.9 L566.96 10.9 L567.12 10.9 L567.28 10.9 L567.45 10.9 L567.61 10.9 L567.77 10.9 L567.93 10.9 L568.1 10.9 L568.26 10.9 L568.42 10.9 L568.59 10.9 L568.75 10.9 L568.91 10.9 L569.08 10.9 L569.24 10.9 L569.4 10.9 L569.57 10.9 L569.73 10.9 L569.89 10.9 L570.06 10.9 L570.22 10.9 L570.38 10.9 L570.54 10.9 L570.71 10.9 L570.87 10.9 L571.03 10.9 L571.2 10.9 L571.36 10.9 L571.52 10.9 L571.69 10.9 L571.85 10.9 L572.01 10.9 L572.18 10.9 L572.34 10.9 L572.5 10.9 L572.66 10.9 L572.83 10.9 L572.99 10.9 L573.15 10.9 L573.32 10.9 L573.48 10.9 L573.64 10.9 L573.81 10.9 L573.97 10.9 L574.13 10.9 L574.3 10.9 L574.46 10.9 L574.62 10.9 L574.79 10.9 L574.95 10.9 L575.11 10.9 L575.27 10.9 L575.44 10.9 L575.6 10.9 L575.76 10.9 L575.93 10.9 L576.09 10.9 L576.25 10.9 L576.42 10.9 L576.58 10.9 L576.74 10.9 L576.91 10.9 L577.07 10.9 L577.23 10.9 L577.39 10.9 L577.56 10.9 L577.72 10.9 L577.88 10.9 L578.05 10.9 L578.21 10.9 L578.37 10.9 L578.54 10.9 L578.7 10.9 L578.86 10.9 L579.03 10.9 L579.19 10.9 L579.35 10.9 L579.52 10.9 L579.68 10.9 L579.84 10.9 L580 10.9 L580.17 10.9 L580.33 10.9 L580.49 10.9 L580.66 10.9 L580.82 10.9 L580.98 10.9 L581.15 10.9 L581.31 10.9 L581.47 10.9 L581.64 10.9 L581.8 10.9 L581.96 10.9 L582.12 10.9 L582.29 10.9 L582.45 10.9 L582.61 10.9 L582.78 10.9 L582.94 10.9 L583.1 10.9 L583.27 10.9 L583.43 10.9 L583.59 10.9 L583.76 10.9 L583.92 10.9 L584.08 10.9 L584.24 10.9 L584.41 10.9 L584.57 10.9 L584.73 10.9 L584.9 10.9 L585.06 10.9 L585.22 10.9 L585.39 10.9 L585.55 10.9 L585.71 10.9 L585.88 10.9 L586.04 10.9 L586.2 10.9 L586.37 10.9 L586.53 10.9 L586.69 10.9 L586.85 10.9 L587.02 10.9 L587.18 10.9 L587.34 10.9 L587.51 10.9 L587.67 10.9 L587.83 10.9 L588 10.9 L588.16 10.9 L588.32 10.9 L588.49 10.9 L588.65 10.9 L588.81 10.9 L588.97 10.9 L589.14 10.9 L589.3 10.9 L589.46 10.9 L589.63 10.9 L589.79 10.9 L589.95 10.9 L590.12 10.9 L590.28 10.9 L590.44 10.9 L590.61 10.9 L590.77 10.9 L590.93 10.9 L591.1 10.9 L591.26 10.9 L591.42 10.9 L591.58 10.9 L591.75 10.9 L591.91 10.9 L592.07 10.9 L592.24 10.9 L592.4 10.9" fill="none" stroke="#5c5c5c" stroke-width="1.3" stroke-linejoin="round" clip-path="url(#clipb)"/>
<rect x="264.4" y="24.9" width="3.6" height="3.6" fill="#000"/>
<rect x="288.87" y="40.3" width="3.6" height="3.6" fill="#000"/>
<line x1="315.13" y1="53.5" x2="315.13" y2="60.5" stroke="#000" stroke-width="1.5" />
<rect x="313.33" y="55.2" width="3.6" height="3.6" fill="#000"/>
<line x1="347.75" y1="87.2" x2="347.75" y2="105.6" stroke="#000" stroke-width="1.5" />
<rect x="345.95" y="94.7" width="3.6" height="3.6" fill="#000"/>
<line x1="355.91" y1="81.9" x2="355.91" y2="96.5" stroke="#000" stroke-width="1.5" />
<rect x="354.11" y="87.5" width="3.6" height="3.6" fill="#000"/>
<line x1="364.06" y1="68.2" x2="364.06" y2="75.2" stroke="#000" stroke-width="1.5" />
<rect x="362.26" y="70" width="3.6" height="3.6" fill="#000"/>
<line x1="372.22" y1="63.9" x2="372.22" y2="73.2" stroke="#000" stroke-width="1.5" />
<rect x="370.42" y="66.6" width="3.6" height="3.6" fill="#000"/>
<line x1="380.37" y1="56.8" x2="380.37" y2="64.2" stroke="#000" stroke-width="1.5" />
<rect x="378.57" y="58.5" width="3.6" height="3.6" fill="#000"/>
<line x1="388.53" y1="81.9" x2="388.53" y2="94.6" stroke="#000" stroke-width="1.5" />
<rect x="386.73" y="86.3" width="3.6" height="3.6" fill="#000"/>
<line x1="396.68" y1="61.8" x2="396.68" y2="74" stroke="#000" stroke-width="1.5" />
<rect x="394.88" y="66.1" width="3.6" height="3.6" fill="#000"/>
<line x1="404.84" y1="56.4" x2="404.84" y2="64.4" stroke="#000" stroke-width="1.5" />
<rect x="403.04" y="58.4" width="3.6" height="3.6" fill="#000"/>
<rect x="451.96" y="26.3" width="3.6" height="3.6" fill="#000"/>
<line x1="461.92" y1="47" x2="461.92" y2="57.2" stroke="#000" stroke-width="1.5" />
<rect x="460.12" y="50.3" width="3.6" height="3.6" fill="#000"/>
<rect x="468.27" y="31" width="3.6" height="3.6" fill="#000"/>
<line x1="478.23" y1="69.6" x2="478.23" y2="78.8" stroke="#000" stroke-width="1.5" />
<rect x="476.43" y="72.6" width="3.6" height="3.6" fill="#000"/>
<line x1="494.54" y1="43" x2="494.54" y2="49.2" stroke="#000" stroke-width="1.5" />
<rect x="492.74" y="44.2" width="3.6" height="3.6" fill="#000"/>
<rect x="500.89" y="18.4" width="3.6" height="3.6" fill="#000"/>
<line x1="510.85" y1="70.9" x2="510.85" y2="91.9" stroke="#000" stroke-width="1.5" />
<rect x="509.05" y="79.6" width="3.6" height="3.6" fill="#000"/>
<rect x="541.67" y="18.6" width="3.6" height="3.6" fill="#000"/>
<rect x="566.13" y="22.6" width="3.6" height="3.6" fill="#000"/>
<rect x="590.6" y="22" width="3.6" height="3.6" fill="#000"/>
<line x1="429.3" y1="47.2" x2="429.3" y2="56.6" stroke="#000" stroke-width="1.4" />
<path d="M429.3 49.1 L431.1 52.1 L429.3 55.1 L427.5 52.1 Z" fill="#000"/>
<line x1="486.38" y1="50.8" x2="486.38" y2="60.2" stroke="#000" stroke-width="1.4" />
<path d="M486.38 52.6 L488.19 55.6 L486.38 58.6 L484.58 55.6 Z" fill="#000"/>
<line x1="266.2" y1="112.6" x2="266.2" y2="117.2" stroke="#000" stroke-width="1.15" />
<text x="266.2" y="128.1" font-size="8.0" text-anchor="middle" fill="#000" >-20w</text>
<line x1="298.82" y1="112.6" x2="298.82" y2="117.2" stroke="#000" stroke-width="1.15" />
<text x="298.82" y="128.1" font-size="8.0" text-anchor="middle" fill="#000" >-16w</text>
<line x1="331.44" y1="112.6" x2="331.44" y2="117.2" stroke="#000" stroke-width="1.15" />
<text x="331.44" y="128.1" font-size="8.0" text-anchor="middle" fill="#000" >-12w</text>
<line x1="364.06" y1="112.6" x2="364.06" y2="117.2" stroke="#000" stroke-width="1.15" />
<text x="364.06" y="128.1" font-size="8.0" text-anchor="middle" fill="#000" >-8w</text>
<line x1="396.68" y1="112.6" x2="396.68" y2="117.2" stroke="#000" stroke-width="1.15" />
<text x="396.68" y="128.1" font-size="8.0" text-anchor="middle" fill="#000" >-4w</text>
<line x1="429.3" y1="112.6" x2="429.3" y2="117.2" stroke="#000" stroke-width="1.15" />
<text x="429.3" y="128.1" font-size="8.0" text-anchor="middle" fill="#000" >0w</text>
<line x1="461.92" y1="112.6" x2="461.92" y2="117.2" stroke="#000" stroke-width="1.15" />
<text x="461.92" y="128.1" font-size="8.0" text-anchor="middle" fill="#000" >4w</text>
<line x1="494.54" y1="112.6" x2="494.54" y2="117.2" stroke="#000" stroke-width="1.15" />
<text x="494.54" y="128.1" font-size="8.0" text-anchor="middle" fill="#000" >8w</text>
<line x1="527.16" y1="112.6" x2="527.16" y2="117.2" stroke="#000" stroke-width="1.15" />
<text x="527.16" y="128.1" font-size="8.0" text-anchor="middle" fill="#000" >12w</text>
<line x1="559.78" y1="112.6" x2="559.78" y2="117.2" stroke="#000" stroke-width="1.15" />
<text x="559.78" y="128.1" font-size="8.0" text-anchor="middle" fill="#000" >16w</text>
<line x1="592.4" y1="112.6" x2="592.4" y2="117.2" stroke="#000" stroke-width="1.15" />
<text x="592.4" y="128.1" font-size="8.0" text-anchor="middle" fill="#000" >20w</text>
<line x1="258.05" y1="112.6" x2="258.05" y2="115.4" stroke="#000" stroke-width="1.1" />
<line x1="274.36" y1="112.6" x2="274.36" y2="115.4" stroke="#000" stroke-width="1.1" />
<line x1="282.51" y1="112.6" x2="282.51" y2="115.4" stroke="#000" stroke-width="1.1" />
<line x1="290.67" y1="112.6" x2="290.67" y2="115.4" stroke="#000" stroke-width="1.1" />
<line x1="306.98" y1="112.6" x2="306.98" y2="115.4" stroke="#000" stroke-width="1.1" />
<line x1="315.13" y1="112.6" x2="315.13" y2="115.4" stroke="#000" stroke-width="1.1" />
<line x1="323.29" y1="112.6" x2="323.29" y2="115.4" stroke="#000" stroke-width="1.1" />
<line x1="339.6" y1="112.6" x2="339.6" y2="115.4" stroke="#000" stroke-width="1.1" />
<line x1="347.75" y1="112.6" x2="347.75" y2="115.4" stroke="#000" stroke-width="1.1" />
<line x1="355.91" y1="112.6" x2="355.91" y2="115.4" stroke="#000" stroke-width="1.1" />
<line x1="372.22" y1="112.6" x2="372.22" y2="115.4" stroke="#000" stroke-width="1.1" />
<line x1="380.37" y1="112.6" x2="380.37" y2="115.4" stroke="#000" stroke-width="1.1" />
<line x1="388.53" y1="112.6" x2="388.53" y2="115.4" stroke="#000" stroke-width="1.1" />
<line x1="404.84" y1="112.6" x2="404.84" y2="115.4" stroke="#000" stroke-width="1.1" />
<line x1="412.99" y1="112.6" x2="412.99" y2="115.4" stroke="#000" stroke-width="1.1" />
<line x1="421.15" y1="112.6" x2="421.15" y2="115.4" stroke="#000" stroke-width="1.1" />
<line x1="437.45" y1="112.6" x2="437.45" y2="115.4" stroke="#000" stroke-width="1.1" />
<line x1="445.61" y1="112.6" x2="445.61" y2="115.4" stroke="#000" stroke-width="1.1" />
<line x1="453.76" y1="112.6" x2="453.76" y2="115.4" stroke="#000" stroke-width="1.1" />
<line x1="470.07" y1="112.6" x2="470.07" y2="115.4" stroke="#000" stroke-width="1.1" />
<line x1="478.23" y1="112.6" x2="478.23" y2="115.4" stroke="#000" stroke-width="1.1" />
<line x1="486.38" y1="112.6" x2="486.38" y2="115.4" stroke="#000" stroke-width="1.1" />
<line x1="502.69" y1="112.6" x2="502.69" y2="115.4" stroke="#000" stroke-width="1.1" />
<line x1="510.85" y1="112.6" x2="510.85" y2="115.4" stroke="#000" stroke-width="1.1" />
<line x1="519" y1="112.6" x2="519" y2="115.4" stroke="#000" stroke-width="1.1" />
<line x1="535.32" y1="112.6" x2="535.32" y2="115.4" stroke="#000" stroke-width="1.1" />
<line x1="543.47" y1="112.6" x2="543.47" y2="115.4" stroke="#000" stroke-width="1.1" />
<line x1="551.62" y1="112.6" x2="551.62" y2="115.4" stroke="#000" stroke-width="1.1" />
<line x1="567.93" y1="112.6" x2="567.93" y2="115.4" stroke="#000" stroke-width="1.1" />
<line x1="576.09" y1="112.6" x2="576.09" y2="115.4" stroke="#000" stroke-width="1.1" />
<line x1="584.25" y1="112.6" x2="584.25" y2="115.4" stroke="#000" stroke-width="1.1" />
<line x1="600.56" y1="112.6" x2="600.56" y2="115.4" stroke="#000" stroke-width="1.1" />
<line x1="245.5" y1="10.9" x2="250.1" y2="10.9" stroke="#000" stroke-width="1.15" />
<text x="240.1" y="13.75" font-size="8.0" text-anchor="end" fill="#000" >1.000</text>
<line x1="245.5" y1="31.18" x2="250.1" y2="31.18" stroke="#000" stroke-width="1.15" />
<text x="240.1" y="34.03" font-size="8.0" text-anchor="end" fill="#000" >0.999</text>
<line x1="245.5" y1="51.46" x2="250.1" y2="51.46" stroke="#000" stroke-width="1.15" />
<text x="240.1" y="54.31" font-size="8.0" text-anchor="end" fill="#000" >0.998</text>
<line x1="245.5" y1="71.74" x2="250.1" y2="71.74" stroke="#000" stroke-width="1.15" />
<text x="240.1" y="74.59" font-size="8.0" text-anchor="end" fill="#000" >0.997</text>
<line x1="245.5" y1="92.02" x2="250.1" y2="92.02" stroke="#000" stroke-width="1.15" />
<text x="240.1" y="94.87" font-size="8.0" text-anchor="end" fill="#000" >0.996</text>
<line x1="245.5" y1="112.3" x2="250.1" y2="112.3" stroke="#000" stroke-width="1.15" />
<text x="240.1" y="115.15" font-size="8.0" text-anchor="end" fill="#000" >0.995</text>
<line x1="247.3" y1="108.24" x2="250.1" y2="108.24" stroke="#000" stroke-width="1.1" />
<line x1="247.3" y1="104.19" x2="250.1" y2="104.19" stroke="#000" stroke-width="1.1" />
<line x1="247.3" y1="100.13" x2="250.1" y2="100.13" stroke="#000" stroke-width="1.1" />
<line x1="247.3" y1="96.08" x2="250.1" y2="96.08" stroke="#000" stroke-width="1.1" />
<line x1="247.3" y1="87.96" x2="250.1" y2="87.96" stroke="#000" stroke-width="1.1" />
<line x1="247.3" y1="83.91" x2="250.1" y2="83.91" stroke="#000" stroke-width="1.1" />
<line x1="247.3" y1="79.85" x2="250.1" y2="79.85" stroke="#000" stroke-width="1.1" />
<line x1="247.3" y1="75.8" x2="250.1" y2="75.8" stroke="#000" stroke-width="1.1" />
<line x1="247.3" y1="67.68" x2="250.1" y2="67.68" stroke="#000" stroke-width="1.1" />
<line x1="247.3" y1="63.63" x2="250.1" y2="63.63" stroke="#000" stroke-width="1.1" />
<line x1="247.3" y1="59.57" x2="250.1" y2="59.57" stroke="#000" stroke-width="1.1" />
<line x1="247.3" y1="55.52" x2="250.1" y2="55.52" stroke="#000" stroke-width="1.1" />
<line x1="247.3" y1="47.4" x2="250.1" y2="47.4" stroke="#000" stroke-width="1.1" />
<line x1="247.3" y1="43.35" x2="250.1" y2="43.35" stroke="#000" stroke-width="1.1" />
<line x1="247.3" y1="39.29" x2="250.1" y2="39.29" stroke="#000" stroke-width="1.1" />
<line x1="247.3" y1="35.24" x2="250.1" y2="35.24" stroke="#000" stroke-width="1.1" />
<line x1="247.3" y1="27.12" x2="250.1" y2="27.12" stroke="#000" stroke-width="1.1" />
<line x1="247.3" y1="23.07" x2="250.1" y2="23.07" stroke="#000" stroke-width="1.1" />
<line x1="247.3" y1="19.01" x2="250.1" y2="19.01" stroke="#000" stroke-width="1.1" />
<line x1="247.3" y1="14.96" x2="250.1" y2="14.96" stroke="#000" stroke-width="1.1" />
<rect x="250.1" y="8.6" width="359.1" height="104" fill="none" stroke="#000" stroke-width="1.35" />
<text x="429.6" y="140.3" font-size="8.0" text-anchor="middle" fill="#000" textLength="118" lengthAdjust="spacingAndGlyphs">Beam position relative to ion1 (d)</text>
<text transform="translate(209.9,60.6) rotate(-90)" font-size="8.0" text-anchor="middle" ><tspan font-style="italic" font-size="8.6">F</tspan><tspan font-size="6" dy="1.8">1|2</tspan></text>
<rect x="527.6" y="64.4" width="154.4" height="47" fill="#fff" stroke="#cccccc" stroke-width="0.9" rx="1.4" fill-opacity="0.8"/>
<line x1="530.2" y1="75.8" x2="547.6" y2="75.8" stroke="#707070" stroke-width="1.7" />
<text x="553.3" y="73.4" font-size="8.0" text-anchor="start" fill="#000" >diffraction limited Gaussian</text>
<text x="553.5" y="82.2" font-size="8.3" text-anchor="start" fill="#000" textLength="91.8" lengthAdjust="spacingAndGlyphs">(<tspan font-style="italic">w</tspan> = 1.5<tspan font-style="italic">μm</tspan>, <tspan font-style="italic">NA</tspan> = 0.16)</text>
<line x1="538.8" y1="87.2" x2="538.8" y2="94.8" stroke="#000" stroke-width="1.5" />
<ellipse cx="538.8" cy="91" rx="2.0" ry="2.3" fill="#000"/>
<text x="553.3" y="93.8" font-size="8.0" text-anchor="start" fill="#000" >data</text>
<line x1="538.8" y1="98.2" x2="538.8" y2="106.6" stroke="#000" stroke-width="1.4" />
<path d="M538.8 99.3 L540.7 102.4 L538.8 105.5 L536.9 102.4 Z" fill="#000"/>
<text x="553.3" y="105.2" font-size="8.0" text-anchor="start" fill="#000" >Probe attenuated to</text>
<text x="624.7" y="105.2" font-size="8.3" text-anchor="start" fill="#000" textLength="26.2" lengthAdjust="spacingAndGlyphs">7.2(2)</text>
<text x="652.7" y="105.2" font-size="8.6" text-anchor="start" fill="#000" >×</text>
<text x="660" y="105.2" font-size="8.3" text-anchor="start" fill="#000" textLength="9.8" lengthAdjust="spacingAndGlyphs">10</text>
<text x="670.2" y="101.6" font-size="6.0" text-anchor="start" fill="#000" textLength="8.2" lengthAdjust="spacingAndGlyphs">−5</text>
<line x1="58.4" y1="237.1" x2="58.4" y2="324.4" stroke="#b0b0b0" stroke-width="1.15" />
<line x1="88.4" y1="237.1" x2="88.4" y2="324.4" stroke="#b0b0b0" stroke-width="1.15" />
<line x1="118.4" y1="237.1" x2="118.4" y2="324.4" stroke="#b0b0b0" stroke-width="1.15" />
<line x1="55.7" y1="257.4" x2="121.4" y2="257.4" stroke="#b0b0b0" stroke-width="1.15" />
<line x1="55.7" y1="280.44" x2="121.4" y2="280.44" stroke="#b0b0b0" stroke-width="1.15" />
<line x1="55.7" y1="303.48" x2="121.4" y2="303.48" stroke="#b0b0b0" stroke-width="1.15" />
<circle cx="58.6" cy="257.1" r="1.7" fill="#000"/>
<line x1="67.6" y1="253.8" x2="67.6" y2="256.6" stroke="#000" stroke-width="1.15" />
<circle cx="67.6" cy="255.1" r="1.7" fill="#000"/>
<line x1="109.3" y1="265.4" x2="109.3" y2="270.2" stroke="#000" stroke-width="1.15" />
<circle cx="109.3" cy="267.8" r="1.7" fill="#000"/>
<line x1="118.2" y1="268" x2="118.2" y2="273.8" stroke="#000" stroke-width="1.15" />
<circle cx="118.2" cy="270.9" r="1.7" fill="#000"/>
<line x1="58.4" y1="324.4" x2="58.4" y2="329.2" stroke="#000" stroke-width="1.1" />
<text x="58.9" y="339.5" font-size="8.0" text-anchor="middle" fill="#000" >−10</text>
<line x1="88.4" y1="324.4" x2="88.4" y2="329.2" stroke="#000" stroke-width="1.1" />
<text x="88.4" y="339.5" font-size="8.0" text-anchor="middle" fill="#000" >0</text>
<line x1="118.4" y1="324.4" x2="118.4" y2="329.2" stroke="#000" stroke-width="1.1" />
<text x="118.4" y="339.5" font-size="8.0" text-anchor="middle" fill="#000" >10</text>
<line x1="50.9" y1="257.4" x2="55.7" y2="257.4" stroke="#000" stroke-width="1.1" />
<text x="46.1" y="260.2" font-size="8.0" text-anchor="end" fill="#000" >0.998</text>
<line x1="50.9" y1="280.44" x2="55.7" y2="280.44" stroke="#000" stroke-width="1.1" />
<text x="46.1" y="283.24" font-size="8.0" text-anchor="end" fill="#000" >0.996</text>
<line x1="50.9" y1="303.48" x2="55.7" y2="303.48" stroke="#000" stroke-width="1.1" />
<text x="46.1" y="306.28" font-size="8.0" text-anchor="end" fill="#000" >0.994</text>
<rect x="55.7" y="237.1" width="65.7" height="87.3" fill="none" stroke="#000" stroke-width="1.2" />
<text x="88.25" y="229" font-size="9.5" text-anchor="middle" fill="#000" ><tspan font-style="italic">b</tspan> = -230 μm</text>
<line x1="137.2" y1="237.1" x2="137.2" y2="324.4" stroke="#b0b0b0" stroke-width="1.15" />
<line x1="167.2" y1="237.1" x2="167.2" y2="324.4" stroke="#b0b0b0" stroke-width="1.15" />
<line x1="197.2" y1="237.1" x2="197.2" y2="324.4" stroke="#b0b0b0" stroke-width="1.15" />
<line x1="134.4" y1="257.4" x2="200.2" y2="257.4" stroke="#b0b0b0" stroke-width="1.15" />
<line x1="134.4" y1="280.44" x2="200.2" y2="280.44" stroke="#b0b0b0" stroke-width="1.15" />
<line x1="134.4" y1="303.48" x2="200.2" y2="303.48" stroke="#b0b0b0" stroke-width="1.15" />
<line x1="137.4" y1="265.2" x2="137.4" y2="268.8" stroke="#000" stroke-width="1.15" />
<circle cx="137.4" cy="267" r="1.7" fill="#000"/>
<circle cx="146.3" cy="263" r="1.7" fill="#000"/>
<line x1="155.2" y1="268.2" x2="155.2" y2="274.6" stroke="#000" stroke-width="1.15" />
<circle cx="155.2" cy="271.3" r="1.7" fill="#000"/>
<circle cx="179.2" cy="258.1" r="1.7" fill="#000"/>
<line x1="188" y1="269.2" x2="188" y2="274.4" stroke="#000" stroke-width="1.15" />
<circle cx="188" cy="271.7" r="1.7" fill="#000"/>
<line x1="197.1" y1="270.2" x2="197.1" y2="280.4" stroke="#000" stroke-width="1.15" />
<circle cx="197.1" cy="275.3" r="1.7" fill="#000"/>
<line x1="137.2" y1="324.4" x2="137.2" y2="329.2" stroke="#000" stroke-width="1.1" />
<text x="137.7" y="339.5" font-size="8.0" text-anchor="middle" fill="#000" >−10</text>
<line x1="167.2" y1="324.4" x2="167.2" y2="329.2" stroke="#000" stroke-width="1.1" />
<text x="167.2" y="339.5" font-size="8.0" text-anchor="middle" fill="#000" >0</text>
<line x1="197.2" y1="324.4" x2="197.2" y2="329.2" stroke="#000" stroke-width="1.1" />
<text x="197.2" y="339.5" font-size="8.0" text-anchor="middle" fill="#000" >10</text>
<line x1="129.6" y1="257.4" x2="134.4" y2="257.4" stroke="#000" stroke-width="1.1" />
<line x1="129.6" y1="280.44" x2="134.4" y2="280.44" stroke="#000" stroke-width="1.1" />
<line x1="129.6" y1="303.48" x2="134.4" y2="303.48" stroke="#000" stroke-width="1.1" />
<rect x="134.4" y="237.1" width="65.8" height="87.3" fill="none" stroke="#000" stroke-width="1.2" />
<text x="167" y="229" font-size="9.5" text-anchor="middle" fill="#000" ><tspan font-style="italic">b</tspan> = -90 μm</text>
<line x1="216.2" y1="237.1" x2="216.2" y2="324.4" stroke="#b0b0b0" stroke-width="1.15" />
<line x1="246.2" y1="237.1" x2="246.2" y2="324.4" stroke="#b0b0b0" stroke-width="1.15" />
<line x1="276.2" y1="237.1" x2="276.2" y2="324.4" stroke="#b0b0b0" stroke-width="1.15" />
<line x1="213.2" y1="257.4" x2="279.1" y2="257.4" stroke="#b0b0b0" stroke-width="1.15" />
<line x1="213.2" y1="280.44" x2="279.1" y2="280.44" stroke="#b0b0b0" stroke-width="1.15" />
<line x1="213.2" y1="303.48" x2="279.1" y2="303.48" stroke="#b0b0b0" stroke-width="1.15" />
<line x1="216.3" y1="276.2" x2="216.3" y2="291.2" stroke="#000" stroke-width="1.15" />
<circle cx="216.3" cy="283.4" r="1.7" fill="#000"/>
<line x1="225.2" y1="265.4" x2="225.2" y2="269.8" stroke="#000" stroke-width="1.15" />
<circle cx="225.2" cy="267.6" r="1.7" fill="#000"/>
<line x1="234.2" y1="265.2" x2="234.2" y2="270" stroke="#000" stroke-width="1.15" />
<circle cx="234.2" cy="267.6" r="1.7" fill="#000"/>
<line x1="258" y1="255.4" x2="258" y2="260.4" stroke="#000" stroke-width="1.15" />
<circle cx="258" cy="257.9" r="1.7" fill="#000"/>
<line x1="266.9" y1="259" x2="266.9" y2="262.6" stroke="#000" stroke-width="1.15" />
<circle cx="266.9" cy="260.8" r="1.7" fill="#000"/>
<line x1="275.8" y1="270.2" x2="275.8" y2="277.2" stroke="#000" stroke-width="1.15" />
<circle cx="275.8" cy="273.7" r="1.7" fill="#000"/>
<line x1="216.2" y1="324.4" x2="216.2" y2="329.2" stroke="#000" stroke-width="1.1" />
<text x="216.7" y="339.5" font-size="8.0" text-anchor="middle" fill="#000" >−10</text>
<line x1="246.2" y1="324.4" x2="246.2" y2="329.2" stroke="#000" stroke-width="1.1" />
<text x="246.2" y="339.5" font-size="8.0" text-anchor="middle" fill="#000" >0</text>
<line x1="276.2" y1="324.4" x2="276.2" y2="329.2" stroke="#000" stroke-width="1.1" />
<text x="276.2" y="339.5" font-size="8.0" text-anchor="middle" fill="#000" >10</text>
<line x1="208.4" y1="257.4" x2="213.2" y2="257.4" stroke="#000" stroke-width="1.1" />
<line x1="208.4" y1="280.44" x2="213.2" y2="280.44" stroke="#000" stroke-width="1.1" />
<line x1="208.4" y1="303.48" x2="213.2" y2="303.48" stroke="#000" stroke-width="1.1" />
<rect x="213.2" y="237.1" width="65.9" height="87.3" fill="none" stroke="#000" stroke-width="1.2" />
<text x="245.85" y="229" font-size="9.5" text-anchor="middle" fill="#000" ><tspan font-style="italic">b</tspan> = 0 μm</text>
<line x1="294.9" y1="237.1" x2="294.9" y2="324.4" stroke="#b0b0b0" stroke-width="1.15" />
<line x1="324.9" y1="237.1" x2="324.9" y2="324.4" stroke="#b0b0b0" stroke-width="1.15" />
<line x1="354.9" y1="237.1" x2="354.9" y2="324.4" stroke="#b0b0b0" stroke-width="1.15" />
<line x1="292.1" y1="257.4" x2="358" y2="257.4" stroke="#b0b0b0" stroke-width="1.15" />
<line x1="292.1" y1="280.44" x2="358" y2="280.44" stroke="#b0b0b0" stroke-width="1.15" />
<line x1="292.1" y1="303.48" x2="358" y2="303.48" stroke="#b0b0b0" stroke-width="1.15" />
<line x1="294.9" y1="278.6" x2="294.9" y2="287" stroke="#000" stroke-width="1.15" />
<circle cx="294.9" cy="282.8" r="1.7" fill="#000"/>
<line x1="304" y1="273.6" x2="304" y2="283.6" stroke="#000" stroke-width="1.15" />
<circle cx="304" cy="278.6" r="1.7" fill="#000"/>
<line x1="313" y1="294.9" x2="313" y2="320" stroke="#000" stroke-width="1.15" />
<circle cx="313" cy="307.7" r="1.7" fill="#000"/>
<line x1="336.8" y1="266.2" x2="336.8" y2="272.4" stroke="#000" stroke-width="1.15" />
<circle cx="336.8" cy="269.3" r="1.7" fill="#000"/>
<circle cx="345.8" cy="260.3" r="1.7" fill="#000"/>
<circle cx="354.7" cy="246.6" r="1.7" fill="#000"/>
<line x1="294.9" y1="324.4" x2="294.9" y2="329.2" stroke="#000" stroke-width="1.1" />
<text x="295.4" y="339.5" font-size="8.0" text-anchor="middle" fill="#000" >−10</text>
<line x1="324.9" y1="324.4" x2="324.9" y2="329.2" stroke="#000" stroke-width="1.1" />
<text x="324.9" y="339.5" font-size="8.0" text-anchor="middle" fill="#000" >0</text>
<line x1="354.9" y1="324.4" x2="354.9" y2="329.2" stroke="#000" stroke-width="1.1" />
<text x="354.9" y="339.5" font-size="8.0" text-anchor="middle" fill="#000" >10</text>
<line x1="287.3" y1="257.4" x2="292.1" y2="257.4" stroke="#000" stroke-width="1.1" />
<line x1="287.3" y1="280.44" x2="292.1" y2="280.44" stroke="#000" stroke-width="1.1" />
<line x1="287.3" y1="303.48" x2="292.1" y2="303.48" stroke="#000" stroke-width="1.1" />
<rect x="292.1" y="237.1" width="65.9" height="87.3" fill="none" stroke="#000" stroke-width="1.2" />
<text x="324.75" y="229" font-size="9.5" text-anchor="middle" fill="#000" ><tspan font-style="italic">b</tspan> = 90 μm</text>
<line x1="373.7" y1="237.1" x2="373.7" y2="324.4" stroke="#b0b0b0" stroke-width="1.15" />
<line x1="403.6" y1="237.1" x2="403.6" y2="324.4" stroke="#b0b0b0" stroke-width="1.15" />
<line x1="433.5" y1="237.1" x2="433.5" y2="324.4" stroke="#b0b0b0" stroke-width="1.15" />
<line x1="370.8" y1="257.4" x2="436.6" y2="257.4" stroke="#b0b0b0" stroke-width="1.15" />
<line x1="370.8" y1="280.44" x2="436.6" y2="280.44" stroke="#b0b0b0" stroke-width="1.15" />
<line x1="370.8" y1="303.48" x2="436.6" y2="303.48" stroke="#b0b0b0" stroke-width="1.15" />
<circle cx="373.8" cy="254.1" r="1.7" fill="#000"/>
<line x1="381.2" y1="265.4" x2="381.2" y2="274.9" stroke="#000" stroke-width="1.15" />
<circle cx="381.2" cy="270" r="1.7" fill="#000"/>
<line x1="388.9" y1="277.2" x2="388.9" y2="289.6" stroke="#000" stroke-width="1.15" />
<circle cx="388.9" cy="283.4" r="1.7" fill="#000"/>
<line x1="393.5" y1="267.6" x2="393.5" y2="274.2" stroke="#000" stroke-width="1.15" />
<circle cx="393.5" cy="270.9" r="1.7" fill="#000"/>
<line x1="414.2" y1="258.8" x2="414.2" y2="264" stroke="#000" stroke-width="1.15" />
<circle cx="414.2" cy="261.4" r="1.7" fill="#000"/>
<circle cx="418.6" cy="246.6" r="1.7" fill="#000"/>
<line x1="426.1" y1="253" x2="426.1" y2="258" stroke="#000" stroke-width="1.15" />
<circle cx="426.1" cy="255.5" r="1.7" fill="#000"/>
<line x1="433.6" y1="240.2" x2="433.6" y2="253.6" stroke="#000" stroke-width="1.15" />
<circle cx="433.6" cy="246.8" r="1.7" fill="#000"/>
<line x1="373.7" y1="324.4" x2="373.7" y2="329.2" stroke="#000" stroke-width="1.1" />
<text x="374.2" y="339.5" font-size="8.0" text-anchor="middle" fill="#000" >−20</text>
<line x1="403.6" y1="324.4" x2="403.6" y2="329.2" stroke="#000" stroke-width="1.1" />
<text x="403.6" y="339.5" font-size="8.0" text-anchor="middle" fill="#000" >0</text>
<line x1="433.5" y1="324.4" x2="433.5" y2="329.2" stroke="#000" stroke-width="1.1" />
<text x="433.5" y="339.5" font-size="8.0" text-anchor="middle" fill="#000" >20</text>
<line x1="366" y1="257.4" x2="370.8" y2="257.4" stroke="#000" stroke-width="1.1" />
<line x1="366" y1="280.44" x2="370.8" y2="280.44" stroke="#000" stroke-width="1.1" />
<line x1="366" y1="303.48" x2="370.8" y2="303.48" stroke="#000" stroke-width="1.1" />
<rect x="370.8" y="237.1" width="65.8" height="87.3" fill="none" stroke="#000" stroke-width="1.2" />
<text x="403.4" y="229" font-size="9.5" text-anchor="middle" fill="#000" ><tspan font-style="italic">b</tspan> = 230 μm</text>
<text transform="translate(16.6,280.6) rotate(-90)" font-size="8.0" text-anchor="middle" ><tspan font-style="italic" font-size="8.6">F</tspan><tspan font-size="6" dy="1.8">1|2</tspan></text>
<text x="245.8" y="352.2" font-size="8.0" text-anchor="middle" fill="#000" >Beam position (d/w) relative to the ion1</text>
<rect x="150.4" y="159.2" width="167.8" height="53.8" fill="none" stroke="#1a1a1a" stroke-width="0.6" stroke-dasharray="1.3 1.0"/>
<text x="157.9" y="185.6" font-size="8.3" text-anchor="start" fill="#000" textLength="22.3" lengthAdjust="spacingAndGlyphs">Probe</text>
<path d="M192.4 175.9 L192.4 195 M185.4 188.0 L192.4 195.4 L199.4 188.0" fill="none" stroke="#000" stroke-width="2.0" stroke-linejoin="miter"/>
<line x1="192.4" y1="171.2" x2="245.8" y2="171.2" stroke="#000" stroke-width="0.8" />
<path d="M191.7 171.2 L194.9 170.0 L194.9 172.4 Z" fill="#000"/>
<path d="M218.2 171.2 L215 170.0 L215 172.4 Z" fill="#000"/>
<path d="M218.4 171.2 L221.6 170.0 L221.6 172.4 Z" fill="#000"/>
<path d="M246.2 171.2 L243 170.0 L243 172.4 Z" fill="#000"/>
<text x="206" y="169.7" font-size="8.6" text-anchor="middle" fill="#000" font-style="italic">d</text>
<text x="234.4" y="169.7" font-size="8.6" text-anchor="middle" fill="#000" font-style="italic">b</text>
<line x1="245.8" y1="171.2" x2="245.8" y2="211.2" stroke="#000" stroke-width="0.75" stroke-dasharray="2.6 1.3"/>
<circle cx="220.8" cy="202.5" r="7.4" fill="#000"/>
<path d="M225.4 200.7 L217.6 204.2" stroke="#fff" stroke-width="1.7" fill="none"/>
<path d="M215.9 205.1 L218.9 202.2 L219.9 205.2 Z" fill="#fff"/>
<text x="257.2" y="186.2" font-size="8.3" text-anchor="start" fill="#000" textLength="56.7" lengthAdjust="spacingAndGlyphs">Center of FOV</text>
<line x1="257.8" y1="184" x2="247.4" y2="194.4" stroke="#000" stroke-width="1.2" />
<path d="M245.9 196.0 L247.4 191.2 L250.6 194.4 Z" fill="#000"/>
<line x1="541.5" y1="167.6" x2="541.5" y2="226.1" stroke="#b0b0b0" stroke-width="1.4" />
<line x1="506.2" y1="170.9" x2="666.2" y2="192.9" stroke="#000" stroke-width="1.4" stroke-dasharray="5 2.2"/>
<path d="M506.2 215.6 C506.67 213.83 507.75 208.78 509 205 C510.25 201.22 512.15 196.27 513.7 192.9 C515.25 189.53 516.75 187.08 518.3 184.8 C519.85 182.52 521.43 180.72 523 179.2 C524.57 177.68 526.15 176.68 527.7 175.7 C529.25 174.72 530.75 173.95 532.3 173.3 C533.85 172.65 535.43 172.18 537 171.8 C538.57 171.42 539.37 171.22 541.7 171 C544.03 170.78 547.95 170.59 551 170.5 C554.05 170.41 556.88 170.44 560 170.45 C563.12 170.46 565.53 170.48 569.7 170.55 C573.87 170.62 578.28 170.71 585 170.85 C591.72 170.99 600.83 171.19 610 171.4 C619.17 171.61 630.63 171.87 640 172.1 C649.37 172.33 661.83 172.68 666.2 172.8" fill="none" stroke="#000" stroke-width="1.4" stroke-dasharray="1.3 2.2"/>
<path d="M505.9 223.8 C506.42 222.07 507.7 217.15 509 213.4 C510.3 209.65 512.15 204.57 513.7 201.3 C515.25 198.03 516.75 195.83 518.3 193.8 C519.85 191.77 521.43 190.35 523 189.1 C524.57 187.85 526.15 187.07 527.7 186.3 C529.25 185.53 530.75 184.97 532.3 184.5 C533.85 184.03 535.43 183.72 537 183.5 C538.57 183.28 539.37 183.18 541.7 183.2 C544.03 183.22 547.9 183.33 551 183.6 C554.1 183.87 557.18 184.35 560.3 184.8 C563.42 185.25 565.58 185.6 569.7 186.3 C573.82 187 578.28 187.83 585 189 C591.72 190.17 600.83 191.73 610 193.3 C619.17 194.87 630.63 196.8 640 198.4 C649.37 200 661.83 202.15 666.2 202.9" fill="none" stroke="#000" stroke-width="1.45"/>
<line x1="506.4" y1="226.1" x2="506.4" y2="230.9" stroke="#000" stroke-width="1.1" />
<text x="506.4" y="241.2" font-size="8.0" text-anchor="middle" fill="#000" >5.0</text>
<line x1="533.04" y1="226.1" x2="533.04" y2="230.9" stroke="#000" stroke-width="1.1" />
<text x="533.04" y="241.2" font-size="8.0" text-anchor="middle" fill="#000" >7.5</text>
<line x1="559.67" y1="226.1" x2="559.67" y2="230.9" stroke="#000" stroke-width="1.1" />
<text x="559.67" y="241.2" font-size="8.0" text-anchor="middle" fill="#000" >10.0</text>
<line x1="586.31" y1="226.1" x2="586.31" y2="230.9" stroke="#000" stroke-width="1.1" />
<text x="586.31" y="241.2" font-size="8.0" text-anchor="middle" fill="#000" >12.5</text>
<line x1="612.95" y1="226.1" x2="612.95" y2="230.9" stroke="#000" stroke-width="1.1" />
<text x="612.95" y="241.2" font-size="8.0" text-anchor="middle" fill="#000" >15.0</text>
<line x1="639.59" y1="226.1" x2="639.59" y2="230.9" stroke="#000" stroke-width="1.1" />
<text x="639.59" y="241.2" font-size="8.0" text-anchor="middle" fill="#000" >17.5</text>
<line x1="666.22" y1="226.1" x2="666.22" y2="230.9" stroke="#000" stroke-width="1.1" />
<text x="666.22" y="241.2" font-size="8.0" text-anchor="middle" fill="#000" >20.0</text>
<line x1="494.1" y1="190" x2="498.9" y2="190" stroke="#000" stroke-width="1.1" />
<text x="488.7" y="192.8" font-size="8.0" text-anchor="end" fill="#000" >0.998</text>
<line x1="494.1" y1="215.7" x2="498.9" y2="215.7" stroke="#000" stroke-width="1.1" />
<text x="488.7" y="218.5" font-size="8.0" text-anchor="end" fill="#000" >0.996</text>
<rect x="498.9" y="167.6" width="175.8" height="58.5" fill="none" stroke="#000" stroke-width="1.25" />
<text x="548" y="253.7" font-size="8.0" text-anchor="start" fill="#000" >Detection time</text>
<text x="600" y="253.7" font-size="8.8" text-anchor="start" fill="#000" font-style="italic">τ</text>
<text x="606" y="255.4" font-size="5.8" text-anchor="start" fill="#000" font-style="italic">d</text>
<text x="609.7" y="253.7" font-size="8.0" text-anchor="start" fill="#000" >(</text>
<text x="612.6" y="253.7" font-size="8.0" text-anchor="start" fill="#000" font-style="italic" textLength="9.4" lengthAdjust="spacingAndGlyphs">μs</text>
<text x="622.4" y="253.7" font-size="8.0" text-anchor="start" fill="#000" >)</text>
<text transform="translate(462.2,196.4) rotate(-90)" font-size="8.0" text-anchor="middle" >Fidelity</text>
<rect x="498.6" y="154" width="170.4" height="13.2" fill="#fff" stroke="#cccccc" stroke-width="0.9" rx="1.4"/>
<line x1="501.5" y1="160.5" x2="517.6" y2="160.5" stroke="#000" stroke-width="1.4" stroke-dasharray="5 2.2"/>
<text x="524.8" y="163.2" font-size="8.0" text-anchor="start" fill="#000" >ion1</text>
<line x1="557.4" y1="160.5" x2="573.8" y2="160.5" stroke="#000" stroke-width="1.4" stroke-dasharray="1.3 2.2"/>
<text x="580.6" y="163.2" font-size="8.0" text-anchor="start" fill="#000" >ion2</text>
<line x1="614.2" y1="160.5" x2="631.2" y2="160.5" stroke="#000" stroke-width="1.4" />
<text x="637.6" y="163.2" font-size="8.0" text-anchor="start" fill="#000" >Product</text>
<path d="M506.8 271.3 L512.6 286.7 L517.6 294.5 L522.2 299.4 L528.5 304.5 L534.9 307.8 L541.2 310.6 L549.3 313.3 L558.4 315.5 L567.5 317.3 L576.5 318.6 L585 319.6 L597.4 320.8 L614 322.1 L632.4 323.2 L650 324 L667.1 324.7" fill="none" stroke="#000" stroke-width="1.45" stroke-linejoin="round"/>
<line x1="528.07" y1="327.2" x2="528.07" y2="332" stroke="#000" stroke-width="1.1" />
<text x="528.07" y="341.8" font-size="8.0" text-anchor="middle" fill="#000" >1</text>
<line x1="562.84" y1="327.2" x2="562.84" y2="332" stroke="#000" stroke-width="1.1" />
<text x="562.84" y="341.8" font-size="8.0" text-anchor="middle" fill="#000" >2</text>
<line x1="597.61" y1="327.2" x2="597.61" y2="332" stroke="#000" stroke-width="1.1" />
<text x="597.61" y="341.8" font-size="8.0" text-anchor="middle" fill="#000" >3</text>
<line x1="632.38" y1="327.2" x2="632.38" y2="332" stroke="#000" stroke-width="1.1" />
<text x="632.38" y="341.8" font-size="8.0" text-anchor="middle" fill="#000" >4</text>
<line x1="667.15" y1="327.2" x2="667.15" y2="332" stroke="#000" stroke-width="1.1" />
<text x="667.15" y="341.8" font-size="8.0" text-anchor="middle" fill="#000" >5</text>
<line x1="500.25" y1="327.2" x2="500.25" y2="330" stroke="#000" stroke-width="1.0" />
<line x1="507.21" y1="327.2" x2="507.21" y2="330" stroke="#000" stroke-width="1.0" />
<line x1="514.16" y1="327.2" x2="514.16" y2="330" stroke="#000" stroke-width="1.0" />
<line x1="521.12" y1="327.2" x2="521.12" y2="330" stroke="#000" stroke-width="1.0" />
<line x1="535.02" y1="327.2" x2="535.02" y2="330" stroke="#000" stroke-width="1.0" />
<line x1="541.98" y1="327.2" x2="541.98" y2="330" stroke="#000" stroke-width="1.0" />
<line x1="548.93" y1="327.2" x2="548.93" y2="330" stroke="#000" stroke-width="1.0" />
<line x1="555.89" y1="327.2" x2="555.89" y2="330" stroke="#000" stroke-width="1.0" />
<line x1="569.79" y1="327.2" x2="569.79" y2="330" stroke="#000" stroke-width="1.0" />
<line x1="576.75" y1="327.2" x2="576.75" y2="330" stroke="#000" stroke-width="1.0" />
<line x1="583.7" y1="327.2" x2="583.7" y2="330" stroke="#000" stroke-width="1.0" />
<line x1="590.66" y1="327.2" x2="590.66" y2="330" stroke="#000" stroke-width="1.0" />
<line x1="604.56" y1="327.2" x2="604.56" y2="330" stroke="#000" stroke-width="1.0" />
<line x1="611.52" y1="327.2" x2="611.52" y2="330" stroke="#000" stroke-width="1.0" />
<line x1="618.47" y1="327.2" x2="618.47" y2="330" stroke="#000" stroke-width="1.0" />
<line x1="625.43" y1="327.2" x2="625.43" y2="330" stroke="#000" stroke-width="1.0" />
<line x1="639.33" y1="327.2" x2="639.33" y2="330" stroke="#000" stroke-width="1.0" />
<line x1="646.29" y1="327.2" x2="646.29" y2="330" stroke="#000" stroke-width="1.0" />
<line x1="653.24" y1="327.2" x2="653.24" y2="330" stroke="#000" stroke-width="1.0" />
<line x1="660.2" y1="327.2" x2="660.2" y2="330" stroke="#000" stroke-width="1.0" />
<line x1="674.1" y1="327.2" x2="674.1" y2="330" stroke="#000" stroke-width="1.0" />
<line x1="494.2" y1="311.5" x2="499" y2="311.5" stroke="#000" stroke-width="1.1" />
<text x="489.8" y="314.3" font-size="8.0" text-anchor="end" fill="#000" >20</text>
<line x1="494.2" y1="291.4" x2="499" y2="291.4" stroke="#000" stroke-width="1.1" />
<text x="489.8" y="294.2" font-size="8.0" text-anchor="end" fill="#000" >40</text>
<line x1="494.2" y1="271.3" x2="499" y2="271.3" stroke="#000" stroke-width="1.1" />
<text x="489.8" y="274.1" font-size="8.0" text-anchor="end" fill="#000" >60</text>
<line x1="496.2" y1="326.58" x2="499" y2="326.58" stroke="#000" stroke-width="1.0" />
<line x1="496.2" y1="321.55" x2="499" y2="321.55" stroke="#000" stroke-width="1.0" />
<line x1="496.2" y1="316.53" x2="499" y2="316.53" stroke="#000" stroke-width="1.0" />
<line x1="496.2" y1="306.48" x2="499" y2="306.48" stroke="#000" stroke-width="1.0" />
<line x1="496.2" y1="301.45" x2="499" y2="301.45" stroke="#000" stroke-width="1.0" />
<line x1="496.2" y1="296.43" x2="499" y2="296.43" stroke="#000" stroke-width="1.0" />
<line x1="496.2" y1="286.38" x2="499" y2="286.38" stroke="#000" stroke-width="1.0" />
<line x1="496.2" y1="281.35" x2="499" y2="281.35" stroke="#000" stroke-width="1.0" />
<line x1="496.2" y1="276.33" x2="499" y2="276.33" stroke="#000" stroke-width="1.0" />
<rect x="499" y="269" width="176" height="58.2" fill="none" stroke="#000" stroke-width="1.25" />
<text x="587.1" y="354.8" font-size="8.0" text-anchor="middle" fill="#000" >Net detection efficiency (%)</text>
<text transform="translate(472,298.1) rotate(-90)" font-size="8.0" text-anchor="middle" textLength="42.2" lengthAdjust="spacing">Opt. <tspan font-style="italic" font-size="8.6">τ</tspan><tspan font-size="6" dy="1.6" font-style="italic"> d</tspan><tspan dy="-1.6"> (</tspan><tspan font-style="italic">μs</tspan>)</text>
</svg>
</body></html>
